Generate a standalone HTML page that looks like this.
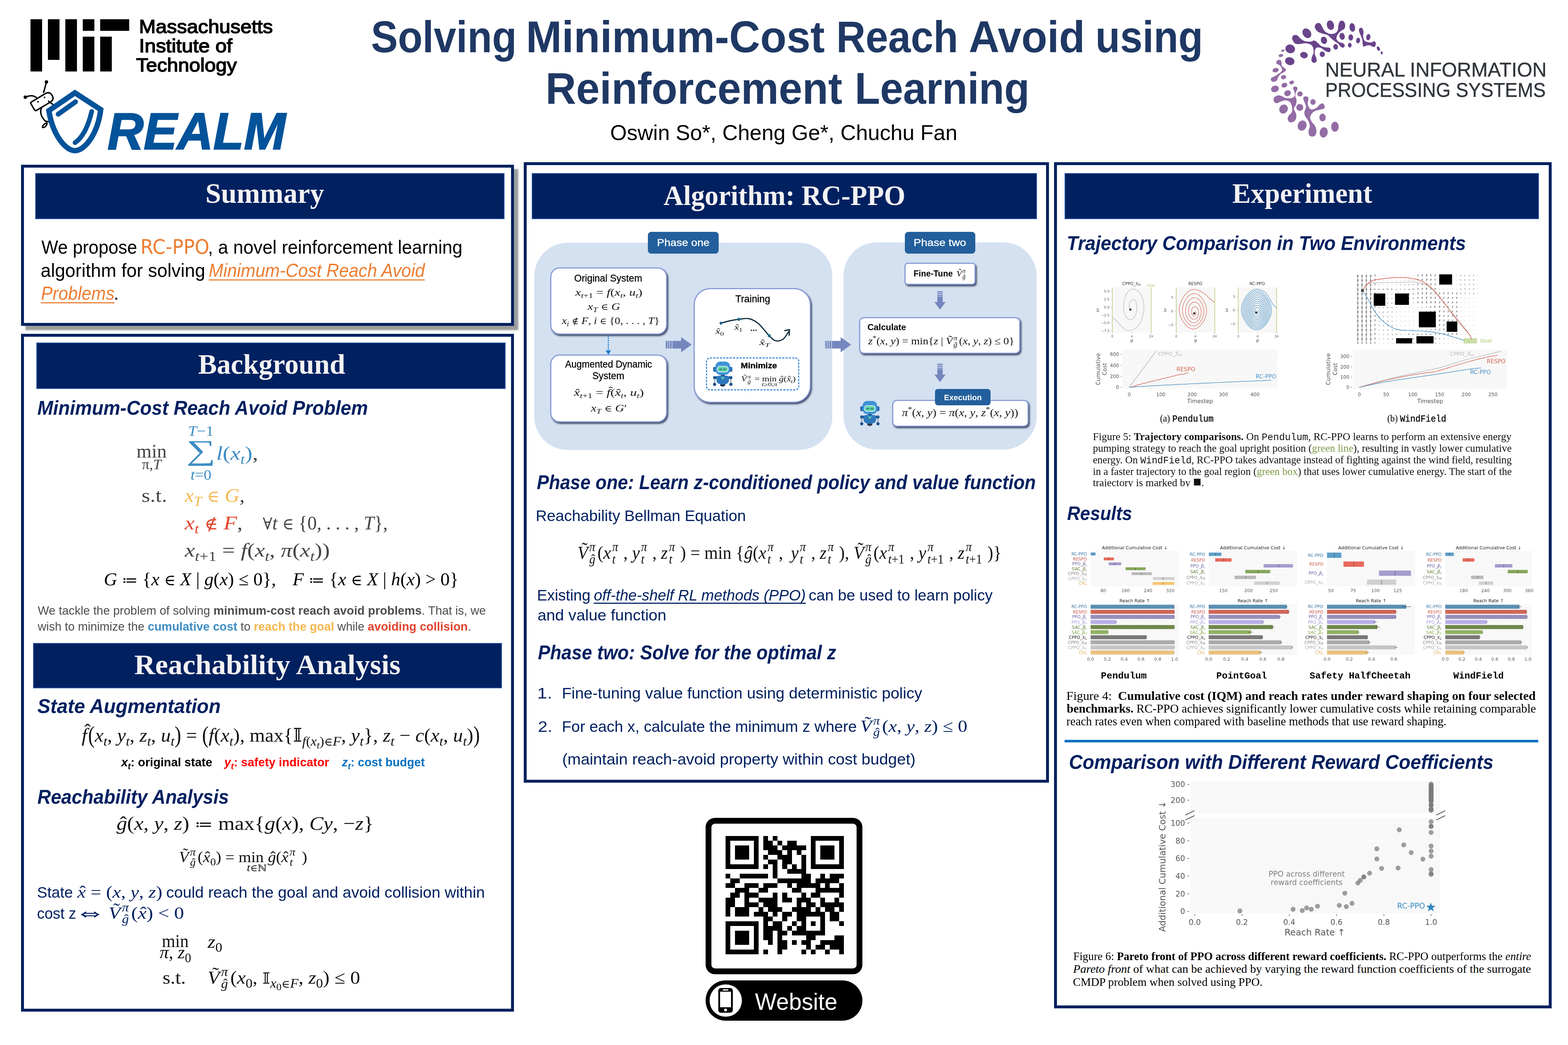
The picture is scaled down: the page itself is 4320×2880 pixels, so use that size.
<!DOCTYPE html>
<html lang="en">
<head>
<meta charset="utf-8">
<title>Solving Minimum-Cost Reach Avoid using Reinforcement Learning</title>
<style>
*{margin:0;padding:0;box-sizing:border-box}
html,body{width:4320px;height:2880px;background:#fff;overflow:hidden}
body{font-family:"Liberation Sans",sans-serif;color:#000}
#poster{position:relative;width:4320px;height:2880px;overflow:hidden;background:#fff}
.t{position:absolute;white-space:nowrap;line-height:1.2;transform-origin:0 0}
.a{position:absolute}
sub,sup{line-height:0;font-size:70%}
svg{position:absolute;overflow:visible}
u{text-decoration-thickness:from-font}
h1,h2,h3,p{margin:0;font-weight:400}
.bp{display:inline-block;transform:scaleY(1.25);transform-origin:50% 60%}

.sb{position:relative;display:inline-block;line-height:0}
.ss{position:relative;display:inline-block;line-height:0;white-space:nowrap}
.ss .sd{position:absolute;left:0;display:inline-block;line-height:0}
.acc{position:relative;display:inline-block;font-style:normal;line-height:0;font-family:'Liberation Serif',serif}
.rel{font-size:.84em}
.cal{font-family:'Liberation Serif',serif;font-style:italic}
</style>
</head>
<body>
<div id="poster">
<div class="a" id="mit-logo" style="left:0;top:0"><div class="a" style="left:84px;top:53px;width:32px;height:144px;background:#000"></div><div class="a" style="left:132px;top:53px;width:32px;height:112px;background:#000"></div><div class="a" style="left:180px;top:53px;width:32px;height:144px;background:#000"></div><div class="a" style="left:228px;top:53px;width:32px;height:32px;background:#000"></div><div class="a" style="left:228px;top:101px;width:32px;height:96px;background:#000"></div><div class="a" style="left:276px;top:53px;width:80px;height:32px;background:#000"></div><div class="a" style="left:276px;top:101px;width:32px;height:96px;background:#000"></div></div>
<div class="t" style="left:383.0px;top:41.4px;font-family:'Liberation Sans',sans-serif;font-size:52.5px;-webkit-text-stroke:2px #000;transform-origin:0 50.0px;transform:scale(1.0525,1.0000);">Massachusetts</div>
<div class="t" style="left:382.9px;top:94.0px;font-family:'Liberation Sans',sans-serif;font-size:52.5px;-webkit-text-stroke:2px #000;transform-origin:0 50.0px;transform:scale(1.0612,1.0000);">Institute of</div>
<div class="t" style="left:374.8px;top:147.0px;font-family:'Liberation Sans',sans-serif;font-size:52.5px;-webkit-text-stroke:2px #000;transform-origin:0 50.0px;transform:scale(1.0442,1.0000);">Technology</div>
<svg style="left:40px;top:30px" width="300" height="410" viewBox="0 0 928.4 1268.8" id="realm-shield">
<g fill="none" stroke="#000" stroke-width="12" stroke-linecap="round" stroke-linejoin="round">
 <path d="M-95 -30 Q-95 -42 -83 -42 L55 -42 Q97 -42 97 0 Q97 42 55 42 L-83 42 Q-95 42 -95 30 Z" fill="#fff" transform="translate(237 770) rotate(-31)"/>
 <path d="M248 695 Q262 650 270 612"/>
 <path d="M185 738 Q150 712 100 733"/>
 <path d="M232 822 Q205 880 262 940 L300 948"/>
 <path d="M290 770 Q315 790 330 800"/>
 <path d="M275 955 Q240 968 238 992 Q252 1002 272 975 Q280 962 275 955"/>
</g>
<circle cx="272" cy="606" r="15"/><circle cx="92" cy="736" r="15"/>
<circle cx="200" cy="775" r="7"/><circle cx="256" cy="738" r="7"/>
<path d="M515 699 L735 842 C720 960 680 1060 620 1130 C580 1175 545 1192 515 1192 C485 1192 450 1175 410 1130 C350 1060 310 960 293 851 Z" fill="#fff" stroke="#03539a" stroke-width="46" stroke-linejoin="miter"/>
<path d="M372 881 L520 776" fill="none" stroke="#03539a" stroke-width="42" stroke-linecap="round"/>
<path d="M658 858 Q610 1060 516 1124" fill="none" stroke="#03539a" stroke-width="40" stroke-linecap="round"/>
</svg>
<div class="t" style="left:296.1px;top:276.0px;font-family:'Liberation Sans',sans-serif;font-size:143px;font-weight:700;font-style:italic;-webkit-text-stroke:3px #03539a;color:#03539a;transform-origin:0 135.0px;transform:scale(0.9658,1.0000);">REALM</div>
<h1 class="a" style="left:0;top:0">
<span class="t" style="left:1021.8px;top:29.0px;font-family:'Liberation Sans',sans-serif;font-size:122px;font-weight:700;color:#1f3864;transform-origin:0 115.0px;transform:scale(0.9116,1.0000);">Solving</span>
<span class="t" style="left:1449.1px;top:29.0px;font-family:'Liberation Sans',sans-serif;font-size:122px;font-weight:700;color:#1f3864;transform-origin:0 115.0px;transform:scale(0.9719,1.0000);">Minimum-Cost</span>
<span class="t" style="left:2303.5px;top:29.0px;font-family:'Liberation Sans',sans-serif;font-size:122px;font-weight:700;color:#1f3864;transform-origin:0 115.0px;transform:scale(0.9174,1.0000);">Reach</span>
<span class="t" style="left:2669.1px;top:29.0px;font-family:'Liberation Sans',sans-serif;font-size:122px;font-weight:700;color:#1f3864;transform-origin:0 115.0px;transform:scale(0.9573,1.0000);">Avoid</span>
<span class="t" style="left:3018.1px;top:29.0px;font-family:'Liberation Sans',sans-serif;font-size:122px;font-weight:700;color:#1f3864;transform-origin:0 115.0px;transform:scale(0.9108,1.0000);">using</span>
<span class="t" style="left:1502.8px;top:170.5px;font-family:'Liberation Sans',sans-serif;font-size:122px;font-weight:700;color:#1f3864;transform-origin:0 115.0px;transform:scale(0.9572,1.0000);">Reinforcement</span>
<span class="t" style="left:2354.9px;top:170.5px;font-family:'Liberation Sans',sans-serif;font-size:122px;font-weight:700;color:#1f3864;transform-origin:0 115.0px;transform:scale(0.9343,1.0000);">Learning</span>
</h1>
<div class="t" style="left:1681.2px;top:330.0px;font-family:'Liberation Sans',sans-serif;font-size:59.5px;transform-origin:0 56.0px;transform:scale(0.9940,1.0000);">Oswin So*, Cheng Ge*, Chuchu Fan</div>
<svg style="left:3480px;top:40px" width="400" height="360" viewBox="0 0 1742.0 1567.8" id="neurips-logo"><ellipse cx="808" cy="128" rx="43" ry="58" fill="#6a448a" transform="rotate(-15 808 128)"/><ellipse cx="1070" cy="155" rx="34" ry="52" fill="#6a448a" transform="rotate(-8 1070 155)"/><ellipse cx="525" cy="225" rx="48" ry="62" fill="#6a448a" transform="rotate(-35 525 225)"/><ellipse cx="325" cy="412" rx="58" ry="52" fill="#6a448a" transform="rotate(20 325 412)"/><ellipse cx="490" cy="487" rx="46" ry="38" fill="#6a448a" transform="rotate(15 490 487)"/><ellipse cx="320" cy="560" rx="57" ry="47" fill="#6a448a" transform="rotate(15 320 560)"/><ellipse cx="730" cy="310" rx="37" ry="45" fill="#6a448a" transform="rotate(-20 730 310)"/><ellipse cx="948" cy="262" rx="32" ry="42" fill="#6a448a" transform="rotate(-10 948 262)"/><ellipse cx="1052" cy="275" rx="28" ry="38" fill="#6a448a" transform="rotate(0 1052 275)"/><ellipse cx="1140" cy="312" rx="24" ry="34" fill="#6a448a" transform="rotate(10 1140 312)"/><ellipse cx="870" cy="388" rx="28" ry="34" fill="#6a448a" transform="rotate(-10 870 388)"/><ellipse cx="1040" cy="368" rx="22" ry="28" fill="#6a448a" transform="rotate(0 1040 368)"/><ellipse cx="710" cy="477" rx="31" ry="34" fill="#6a448a" transform="rotate(-20 710 477)"/><ellipse cx="1383" cy="410" rx="17" ry="28" fill="#6a448a" transform="rotate(-25 1383 410)"/><ellipse cx="1423" cy="460" rx="12" ry="18" fill="#6a448a" transform="rotate(-15 1423 460)"/><ellipse cx="1262" cy="272" rx="25" ry="38" fill="#6a448a" transform="rotate(10 1262 272)"/><ellipse cx="237" cy="433" rx="20" ry="13" fill="#936ca5" transform="rotate(-15 237 433)"/><ellipse cx="213" cy="492" rx="28" ry="18" fill="#936ca5" transform="rotate(-10 213 492)"/><ellipse cx="150" cy="668" rx="38" ry="26" fill="#936ca5" transform="rotate(-15 150 668)"/><ellipse cx="245" cy="752" rx="32" ry="25" fill="#936ca5" transform="rotate(-15 245 752)"/><ellipse cx="343" cy="815" rx="28" ry="22" fill="#936ca5" transform="rotate(-20 343 815)"/><ellipse cx="255" cy="848" rx="36" ry="28" fill="#936ca5" transform="rotate(-20 255 848)"/><ellipse cx="142" cy="893" rx="48" ry="38" fill="#936ca5" transform="rotate(-20 142 893)"/><ellipse cx="293" cy="945" rx="40" ry="35" fill="#936ca5" transform="rotate(-25 293 945)"/><ellipse cx="442" cy="953" rx="32" ry="30" fill="#936ca5" transform="rotate(-10 442 953)"/><ellipse cx="598" cy="1050" rx="32" ry="34" fill="#936ca5" transform="rotate(0 598 1050)"/><ellipse cx="245" cy="1135" rx="50" ry="56" fill="#936ca5" transform="rotate(30 245 1135)"/><ellipse cx="440" cy="1115" rx="42" ry="42" fill="#936ca5" transform="rotate(0 440 1115)"/><ellipse cx="713" cy="1236" rx="38" ry="47" fill="#936ca5" transform="rotate(0 713 1236)"/><ellipse cx="468" cy="1333" rx="52" ry="62" fill="#936ca5" transform="rotate(20 468 1333)"/><ellipse cx="862" cy="1347" rx="45" ry="60" fill="#936ca5" transform="rotate(0 862 1347)"/><ellipse cx="727" cy="1415" rx="48" ry="62" fill="#936ca5" transform="rotate(10 727 1415)"/><path d="M620.0 150.0C618.3 134.7 630.0 115.5 640.0 108.0C650.0 100.5 668.3 98.0 680.0 105.0C691.7 112.0 700.0 134.2 710.0 150.0C720.0 165.8 725.0 186.3 740.0 200.0C755.0 213.7 780.0 227.8 800.0 232.0C820.0 236.2 844.2 232.0 860.0 225.0C875.8 218.0 887.5 207.5 895.0 190.0C902.5 172.5 900.0 138.7 905.0 120.0C910.0 101.3 915.0 84.7 925.0 78.0C935.0 71.3 955.0 72.2 965.0 80.0C975.0 87.8 983.3 110.0 985.0 125.0C986.7 140.0 984.2 157.5 975.0 170.0C965.8 182.5 943.3 188.3 930.0 200.0C916.7 211.7 903.3 225.0 895.0 240.0C886.7 255.0 877.5 275.0 880.0 290.0C882.5 305.0 896.7 320.8 910.0 330.0C923.3 339.2 948.3 337.5 960.0 345.0C971.7 352.5 980.0 366.2 980.0 375.0C980.0 383.8 968.3 396.3 960.0 398.0C951.7 399.7 940.0 393.0 930.0 385.0C920.0 377.0 913.3 361.7 900.0 350.0C886.7 338.3 865.0 326.7 850.0 315.0C835.0 303.3 823.3 291.7 810.0 280.0C796.7 268.3 788.3 254.2 770.0 245.0C751.7 235.8 720.0 232.5 700.0 225.0C680.0 217.5 663.3 212.5 650.0 200.0C636.7 187.5 621.7 165.3 620.0 150.0Z" fill="#6a448a"/><path d="M348.0 290.0C345.5 274.2 354.7 256.7 365.0 250.0C375.3 243.3 395.8 243.3 410.0 250.0C424.2 256.7 435.0 278.3 450.0 290.0C465.0 301.7 480.0 314.2 500.0 320.0C520.0 325.8 550.8 326.3 570.0 325.0C589.2 323.7 601.7 310.3 615.0 312.0C628.3 313.7 635.8 323.7 650.0 335.0C664.2 346.3 681.7 370.0 700.0 380.0C718.3 390.0 743.3 391.7 760.0 395.0C776.7 398.3 791.7 394.2 800.0 400.0C808.3 405.8 811.7 421.3 810.0 430.0C808.3 438.7 800.0 450.3 790.0 452.0C780.0 453.7 765.0 447.8 750.0 440.0C735.0 432.2 716.7 412.5 700.0 405.0C683.3 397.5 662.5 392.5 650.0 395.0C637.5 397.5 630.0 407.5 625.0 420.0C620.0 432.5 617.5 451.7 620.0 470.0C622.5 488.3 636.7 514.2 640.0 530.0C643.3 545.8 645.0 556.7 640.0 565.0C635.0 573.3 619.7 580.8 610.0 580.0C600.3 579.2 586.2 571.7 582.0 560.0C577.8 548.3 581.2 526.7 585.0 510.0C588.8 493.3 602.5 478.3 605.0 460.0C607.5 441.7 605.8 416.7 600.0 400.0C594.2 383.3 586.7 369.2 570.0 360.0C553.3 350.8 523.3 345.8 500.0 345.0C476.7 344.2 450.0 355.0 430.0 355.0C410.0 355.0 393.7 355.8 380.0 345.0C366.3 334.2 350.5 305.8 348.0 290.0Z" fill="#6a448a"/><path d="M1150.0 195.0C1148.3 180.3 1153.3 167.0 1160.0 162.0C1166.7 157.0 1182.5 157.0 1190.0 165.0C1197.5 173.0 1203.3 194.2 1205.0 210.0C1206.7 225.8 1198.3 243.3 1200.0 260.0C1201.7 276.7 1206.7 298.3 1215.0 310.0C1223.3 321.7 1235.8 325.8 1250.0 330.0C1264.2 334.2 1285.8 336.7 1300.0 335.0C1314.2 333.3 1326.3 318.3 1335.0 320.0C1343.7 321.7 1350.3 335.0 1352.0 345.0C1353.7 355.0 1350.3 372.8 1345.0 380.0C1339.7 387.2 1330.8 389.7 1320.0 388.0C1309.2 386.3 1293.3 372.7 1280.0 370.0C1266.7 367.3 1251.7 369.5 1240.0 372.0C1228.3 374.5 1217.5 387.0 1210.0 385.0C1202.5 383.0 1198.3 374.2 1195.0 360.0C1191.7 345.8 1194.2 318.3 1190.0 300.0C1185.8 281.7 1176.7 267.5 1170.0 250.0C1163.3 232.5 1151.7 209.7 1150.0 195.0Z" fill="#6a448a"/><path d="M158.0 575.0C159.7 567.2 166.3 552.5 175.0 548.0C183.7 543.5 202.2 542.7 210.0 548.0C217.8 553.3 219.5 568.8 222.0 580.0C224.5 591.2 218.7 604.2 225.0 615.0C231.3 625.8 251.7 636.7 260.0 645.0C268.3 653.3 275.8 657.5 275.0 665.0C274.2 672.5 265.0 682.5 255.0 690.0C245.0 697.5 226.7 700.8 215.0 710.0C203.3 719.2 193.3 731.7 185.0 745.0C176.7 758.3 175.0 779.5 165.0 790.0C155.0 800.5 136.7 808.0 125.0 808.0C113.3 808.0 99.2 798.0 95.0 790.0C90.8 782.0 92.5 768.3 100.0 760.0C107.5 751.7 126.7 747.5 140.0 740.0C153.3 732.5 166.7 724.2 180.0 715.0C193.3 705.8 212.5 695.8 220.0 685.0C227.5 674.2 228.3 662.5 225.0 650.0C221.7 637.5 210.0 619.2 200.0 610.0C190.0 600.8 172.0 600.8 165.0 595.0C158.0 589.2 156.3 582.8 158.0 575.0Z" fill="#936ca5"/><path d="M358.0 885.0C358.8 877.5 367.2 867.5 375.0 865.0C382.8 862.5 398.8 865.0 405.0 870.0C411.2 875.0 413.7 885.0 412.0 895.0C410.3 905.0 399.5 916.7 395.0 930.0C390.5 943.3 384.2 960.0 385.0 975.0C385.8 990.0 398.3 1002.5 400.0 1020.0C401.7 1037.5 400.0 1061.7 395.0 1080.0C390.0 1098.3 370.0 1111.7 370.0 1130.0C370.0 1148.3 390.8 1170.0 395.0 1190.0C399.2 1210.0 400.8 1233.3 395.0 1250.0C389.2 1266.7 373.3 1283.3 360.0 1290.0C346.7 1296.7 325.8 1296.7 315.0 1290.0C304.2 1283.3 295.8 1263.3 295.0 1250.0C294.2 1236.7 301.7 1223.3 310.0 1210.0C318.3 1196.7 339.2 1188.3 345.0 1170.0C350.8 1151.7 349.2 1120.0 345.0 1100.0C340.8 1080.0 332.5 1061.7 320.0 1050.0C307.5 1038.3 288.3 1030.8 270.0 1030.0C251.7 1029.2 227.5 1039.2 210.0 1045.0C192.5 1050.8 178.3 1065.0 165.0 1065.0C151.7 1065.0 135.8 1055.8 130.0 1045.0C124.2 1034.2 123.3 1012.2 130.0 1000.0C136.7 987.8 155.8 976.2 170.0 972.0C184.2 967.8 199.2 970.3 215.0 975.0C230.8 979.7 245.8 995.0 265.0 1000.0C284.2 1005.0 312.5 1006.7 330.0 1005.0C347.5 1003.3 361.7 999.2 370.0 990.0C378.3 980.8 380.0 963.3 380.0 950.0C380.0 936.7 373.7 920.8 370.0 910.0C366.3 899.2 357.2 892.5 358.0 885.0Z" fill="#936ca5"/><path d="M482.0 1010.0C481.2 997.5 487.0 989.2 495.0 985.0C503.0 980.8 521.7 980.0 530.0 985.0C538.3 990.0 544.2 1002.5 545.0 1015.0C545.8 1027.5 535.0 1045.0 535.0 1060.0C535.0 1075.0 537.5 1091.7 545.0 1105.0C552.5 1118.3 564.2 1137.5 580.0 1140.0C595.8 1142.5 623.3 1130.0 640.0 1120.0C656.7 1110.0 667.5 1088.7 680.0 1080.0C692.5 1071.3 705.3 1065.5 715.0 1068.0C724.7 1070.5 735.5 1084.7 738.0 1095.0C740.5 1105.3 738.0 1122.5 730.0 1130.0C722.0 1137.5 708.3 1135.0 690.0 1140.0C671.7 1145.0 638.3 1150.8 620.0 1160.0C601.7 1169.2 589.2 1181.7 580.0 1195.0C570.8 1208.3 564.2 1224.2 565.0 1240.0C565.8 1255.8 575.0 1273.3 585.0 1290.0C595.0 1306.7 615.8 1321.7 625.0 1340.0C634.2 1358.3 640.0 1381.7 640.0 1400.0C640.0 1418.3 633.3 1439.2 625.0 1450.0C616.7 1460.8 601.7 1465.0 590.0 1465.0C578.3 1465.0 562.5 1460.8 555.0 1450.0C547.5 1439.2 544.2 1418.3 545.0 1400.0C545.8 1381.7 560.0 1360.0 560.0 1340.0C560.0 1320.0 554.2 1300.0 545.0 1280.0C535.8 1260.0 513.3 1238.3 505.0 1220.0C496.7 1201.7 493.3 1188.3 495.0 1170.0C496.7 1151.7 514.2 1128.3 515.0 1110.0C515.8 1091.7 505.5 1076.7 500.0 1060.0C494.5 1043.3 482.8 1022.5 482.0 1010.0Z" fill="#936ca5"/></svg>
<div class="t" style="left:3650.5px;top:159.0px;font-family:'Liberation Sans',sans-serif;font-size:55.5px;-webkit-text-stroke:0.6px #32373d;color:#32373d;transform-origin:0 52.0px;transform:scale(0.9792,1.0000);">NEURAL INFORMATION</div>
<div class="t" style="left:3650.7px;top:214.5px;font-family:'Liberation Sans',sans-serif;font-size:55.5px;-webkit-text-stroke:0.6px #32373d;color:#32373d;transform-origin:0 52.0px;transform:scale(0.9338,1.0000);">PROCESSING SYSTEMS</div>
<div class="a panel" style="left:58px;top:454px;width:1357.5px;height:444px;border:8px solid #002060;background:#fff;box-shadow:11.5px 11.5px 4px rgba(0,0,0,.39);"></div>
<div class="a hdr" style="left:97px;top:477px;width:1293px;height:127px;background:#002060;border:2px solid #2f5cae;"></div>
<h2 class="t" style="left:565.9px;top:486.0px;font-family:'Liberation Serif',serif;font-size:78px;font-weight:700;color:#f2f2f2;transform-origin:0 73.0px;transform:scale(0.9925,1.0000);">Summary</h2>
<div class="t" style="left:114.2px;top:650.7px;font-family:'Liberation Sans',sans-serif;font-size:51.5px;transform-origin:0 48.0px;transform:scale(0.9536,1.0000);">We propose</div>
<div class="t" style="left:387.0px;top:645.7px;font-family:'DejaVu Sans',sans-serif;font-size:56px;color:#ed7d31;transform-origin:0 53.0px;transform:scale(0.9173,1.0000);">RC-PPO</div>
<div class="t" style="left:572.5px;top:650.7px;font-family:'Liberation Sans',sans-serif;font-size:51.5px;transform-origin:0 48.0px;transform:scale(0.9720,1.0000);">, a novel reinforcement learning</div>
<div class="t" style="left:112.2px;top:715.0px;font-family:'Liberation Sans',sans-serif;font-size:51.5px;transform-origin:0 48.0px;transform:scale(0.9839,1.0000);">algorithm for solving</div>
<div class="t" style="left:574.5px;top:715.0px;font-family:'Liberation Sans',sans-serif;font-size:51.5px;font-style:italic;text-decoration-skip-ink:none;text-decoration:underline;text-decoration-thickness:3px;text-underline-offset:7px;color:#ed7d31;transform-origin:0 48.0px;transform:scale(0.9368,1.0000);">Minimum-Cost Reach Avoid</div>
<div class="t" style="left:112.9px;top:778.3px;font-family:'Liberation Sans',sans-serif;font-size:51.5px;font-style:italic;text-decoration-skip-ink:none;text-decoration:underline;text-decoration-thickness:3px;text-underline-offset:7px;color:#ed7d31;transform-origin:0 48.0px;transform:scale(0.9307,1.0000);">Problems</div>
<div class="t" style="left:313.3px;top:778.3px;font-family:'Liberation Sans',sans-serif;font-size:51.5px;">.</div>
<div class="a panel" style="left:58px;top:920px;width:1357.5px;height:1867.5px;border:8px solid #002060;background:#fff;"></div>
<div class="a hdr" style="left:100px;top:944px;width:1293px;height:127.5px;background:#002060;border:2px solid #2f5cae;"></div>
<h2 class="t" style="left:545.7px;top:957.0px;font-family:'Liberation Serif',serif;font-size:78px;font-weight:700;color:#f2f2f2;transform-origin:0 73.0px;transform:scale(0.9872,1.0000);">Background</h2>
<h3 class="t" style="left:103.1px;top:1090.0px;font-family:'Liberation Sans',sans-serif;font-size:56px;font-weight:700;font-style:italic;color:#002060;transform-origin:0 53.0px;transform:scale(0.9282,1.0000);">Minimum-Cost Reach Avoid Problem</h3>
<div class="t" style="left:375.5px;top:1211.3px;font-family:'Liberation Serif',serif;font-size:53.5px;color:#444;transform-origin:0 50.0px;transform:scale(1.0024,1.0000);">min</div>
<div class="t" style="left:391.4px;top:1255.5px;font-family:'Liberation Serif',serif;font-size:40px;color:#444;transform-origin:0 37.0px;transform:scale(1.0148,1.0000);">π,<i>T</i></div>
<div class="t" style="left:518.2px;top:1163.5px;font-family:'Liberation Serif',serif;font-size:40px;color:#3c8dc4;transform-origin:0 37.0px;transform:scale(1.0942,1.0000);"><i>T</i>−1</div>
<div class="t" style="left:513.4px;top:1174.0px;font-family:'Liberation Serif',serif;font-size:100px;font-family:'Liberation Serif','DejaVu Serif','DejaVu Sans',serif;color:#3c8dc4;transform-origin:0 93.0px;transform:scale(1.1367,0.7800);">∑</div>
<div class="t" style="left:524.6px;top:1284.5px;font-family:'Liberation Serif',serif;font-size:40px;color:#3c8dc4;transform-origin:0 37.0px;transform:scale(1.0720,1.0000);"><i>t</i>=0</div>
<div class="t" style="left:595.7px;top:1217.0px;font-family:'Liberation Serif',serif;font-size:53.5px;color:#3c8dc4;transform-origin:0 50.0px;transform:scale(1.1749,1.0000);"><i>l</i>(<i>x</i><span class="sb" style="font-size:0.7em;top:0.314em"><i>t</i></span>)<span style="color:#444">,</span></div>
<div class="t" style="left:389.5px;top:1332.5px;font-family:'Liberation Serif',serif;font-size:53.5px;color:#444;transform-origin:0 50.0px;transform:scale(1.1284,1.0000);">s.t.</div>
<div class="t" style="left:509.0px;top:1332.5px;font-family:'Liberation Serif',serif;font-size:53.5px;font-family:'Liberation Serif','DejaVu Serif','DejaVu Sans',serif;color:#f6b74e;transform-origin:0 50.0px;transform:scale(1.0539,1.0000);"><i>x</i><span class="sb" style="font-size:0.7em;top:0.314em"><i>T</i></span> <span class="rel">∈</span> <i class="cal">G</i><span style="color:#444">,</span></div>
<div class="t" style="left:509.0px;top:1408.5px;font-family:'Liberation Serif',serif;font-size:53.5px;font-family:'Liberation Serif','DejaVu Serif','DejaVu Sans',serif;color:#e2432c;transform-origin:0 50.0px;transform:scale(1.1364,1.0000);"><i>x</i><span class="sb" style="font-size:0.7em;top:0.314em"><i>t</i></span> <span class="rel">∉</span> <i class="cal">F</i><span style="color:#444">,</span></div>
<div class="t" style="left:724.4px;top:1408.5px;font-family:'Liberation Serif',serif;font-size:53.5px;font-family:'Liberation Serif','DejaVu Serif','DejaVu Sans',serif;color:#444;transform-origin:0 50.0px;transform:scale(0.9642,1.0000);"><span class="rel">∀</span><i>t</i> <span class="rel">∈</span> {0, . . . , <i>T</i>},</div>
<div class="t" style="left:508.9px;top:1483.8px;font-family:'Liberation Serif',serif;font-size:53.5px;font-family:'Liberation Serif','DejaVu Serif','DejaVu Sans',serif;color:#444;transform-origin:0 50.0px;transform:scale(1.1795,1.0000);"><i>x</i><span class="sb" style="font-size:0.7em;top:0.314em"><i>t</i>+1</span> = <i>f</i>(<i>x</i><span class="sb" style="font-size:0.7em;top:0.314em"><i>t</i></span>, <i>π</i>(<i>x</i><span class="sb" style="font-size:0.7em;top:0.314em"><i>t</i></span>))</div>
<div class="t" style="left:285.7px;top:1566.4px;font-family:'Liberation Serif',serif;font-size:50px;font-family:'Liberation Serif','DejaVu Serif','DejaVu Sans',serif;color:#000;transform-origin:0 47.0px;transform:scale(1.0166,1.0000);"><i class="cal">G</i> <span class="rel">≔</span> {<i>x</i> <span class="rel">∈</span> <i class="cal">X</i> | <i>g</i>(<i>x</i>) ≤ 0},<span style="display:inline-block;width:0.9em"></span><i class="cal">F</i> <span class="rel">≔</span> {<i>x</i> <span class="rel">∈</span> <i class="cal">X</i> | <i>h</i>(<i>x</i>) &gt; 0}</div>
<p class="t" style="left:103.9px;top:1663.0px;font-family:'Liberation Sans',sans-serif;font-size:33.5px;color:#4d4d4d;transform-origin:0 31.0px;transform:scale(0.9819,1.0000);">We tackle the problem of solving <b>minimum-cost reach avoid problems</b>. That is, we</p>
<p class="t" style="left:104.0px;top:1706.7px;font-family:'Liberation Sans',sans-serif;font-size:33.5px;color:#4d4d4d;transform-origin:0 31.0px;transform:scale(0.9746,1.0000);">wish to minimize the <b style="color:#3c8dc4">cumulative cost</b> to <b style="color:#f6b74e">reach the goal</b> while <b style="color:#e2432c">avoiding collision</b>.</p>
<div class="a hdr" style="left:90.5px;top:1771.5px;width:1292px;height:125.5px;background:#002060;border:2px solid #2f5cae;"></div>
<h2 class="t" style="left:370.3px;top:1785.0px;font-family:'Liberation Serif',serif;font-size:78px;font-weight:700;color:#f2f2f2;transform-origin:0 73.0px;transform:scale(1.0228,1.0000);">Reachability Analysis</h2>
<h3 class="t" style="left:103.3px;top:1912.3px;font-family:'Liberation Sans',sans-serif;font-size:56px;font-weight:700;font-style:italic;color:#002060;transform-origin:0 53.0px;transform:scale(0.9584,1.0000);">State Augmentation</h3>
<div class="t" style="left:224.9px;top:1995.7px;font-family:'Liberation Serif',serif;font-size:52px;font-family:'Liberation Serif','DejaVu Serif','DejaVu Sans',serif;color:#111;transform-origin:0 48.0px;transform:scale(1.0431,1.0000);"><i>f</i><span class="acc" style="margin-left:-0.145em;margin-right:-0.188em;top:-0.23em">ˆ</span><span style="display:inline-block;width:0.05em"></span><span class="bp">(</span><i>x</i><span class="sb" style="font-size:0.7em;top:0.314em"><i>t</i></span>, <i>y</i><span class="sb" style="font-size:0.7em;top:0.314em"><i>t</i></span>, <i>z</i><span class="sb" style="font-size:0.7em;top:0.314em"><i>t</i></span>, <i>u</i><span class="sb" style="font-size:0.7em;top:0.314em"><i>t</i></span><span class="bp">)</span> = <span class="bp">(</span><i>f</i>(<i>x</i><span class="sb" style="font-size:0.7em;top:0.314em"><i>t</i></span>), max{𝕀<span class="sb" style="font-size:0.7em;top:0.314em"><i>f</i>(<i>x</i><span class="sb" style="font-size:0.75em;top:0.293em"><i>t</i></span>)<span class="rel">∈</span><i class="cal">F</i></span>, <i>y</i><span class="sb" style="font-size:0.7em;top:0.314em"><i>t</i></span>}, <i>z</i><span class="sb" style="font-size:0.7em;top:0.314em"><i>t</i></span> − <i>c</i>(<i>x</i><span class="sb" style="font-size:0.7em;top:0.314em"><i>t</i></span>, <i>u</i><span class="sb" style="font-size:0.7em;top:0.314em"><i>t</i></span>)<span class="bp">)</span></div>
<div class="t" style="left:333.5px;top:2080.3px;font-family:'Liberation Sans',sans-serif;font-size:34px;font-weight:700;transform-origin:0 32.0px;transform:scale(0.9677,1.0000);"><i>x</i><span class="sb" style="font-size:0.7em;top:0.314em"><i>t</i></span>: original state</div>
<div class="t" style="left:618.2px;top:2080.3px;font-family:'Liberation Sans',sans-serif;font-size:34px;font-weight:700;color:#ff0000;transform-origin:0 32.0px;transform:scale(0.9659,1.0000);"><i>y</i><span class="sb" style="font-size:0.7em;top:0.314em"><i>t</i></span>: safety indicator</div>
<div class="t" style="left:941.7px;top:2080.3px;font-family:'Liberation Sans',sans-serif;font-size:34px;font-weight:700;color:#0070c0;transform-origin:0 32.0px;transform:scale(0.9577,1.0000);"><i>z</i><span class="sb" style="font-size:0.7em;top:0.314em"><i>t</i></span>: cost budget</div>
<h3 class="t" style="left:103.1px;top:2161.6px;font-family:'Liberation Sans',sans-serif;font-size:56px;font-weight:700;font-style:italic;color:#002060;transform-origin:0 53.0px;transform:scale(0.9197,1.0000);">Reachability Analysis</h3>
<div class="t" style="left:320.8px;top:2237.8px;font-family:'Liberation Serif',serif;font-size:53px;font-family:'Liberation Serif','DejaVu Serif','DejaVu Sans',serif;color:#111;transform-origin:0 49.0px;transform:scale(1.0984,1.0000);"><i>g</i><span class="acc" style="margin-left:-0.346em;margin-right:0.013em;top:-0.00em">ˆ</span>(<i>x</i>, <i>y</i>, <i>z</i>) <span class="rel">≔</span> max{<i>g</i>(<i>x</i>), <i>C</i><i>y</i>, −<i>z</i>}</div>
<div class="t" style="left:492.5px;top:2336.6px;font-family:'Liberation Serif',serif;font-size:42px;font-family:'Liberation Serif','DejaVu Serif','DejaVu Sans',serif;color:#111;transform-origin:0 39.0px;transform:scale(1.0636,1.0000);"><i>V</i><span class="acc" style="margin-left:-0.372em;margin-right:0.039em;top:-0.20em">˜</span><span class="ss" style="font-size:0.7em;margin-left:0.1em"><span class="sb" style="top:-0.600em"><i>π</i></span><span class="sd" style="top:0.357em"><i>g</i><span class="acc" style="margin-left:-0.346em;margin-right:0.013em;top:-0.00em">ˆ</span></span></span><span style="display:inline-block;width:0.12em"></span>(<i>x</i><span class="acc" style="margin-left:-0.329em;margin-right:-0.005em;top:-0.00em">ˆ</span><span class="sb" style="font-size:0.7em;top:0.314em">0</span>) = min <i>g</i><span class="acc" style="margin-left:-0.346em;margin-right:0.013em;top:-0.00em">ˆ</span>(<i>x</i><span class="acc" style="margin-left:-0.329em;margin-right:-0.005em;top:-0.00em">ˆ</span><span class="ss" style="font-size:0.7em;margin-left:0.1em"><span class="sb" style="top:-0.600em"><i>π</i></span><span class="sd" style="top:0.357em"><i>t</i></span></span><span style="display:inline-block;width:0.4em"></span>)</div>
<div class="t" style="left:679.7px;top:2373.0px;font-family:'Liberation Serif',serif;font-size:30px;font-family:'Liberation Serif','DejaVu Serif','DejaVu Sans',serif;color:#111;transform-origin:0 28.0px;transform:scale(1.1058,1.0000);"><i>t</i><span class="rel">∈</span><span class="rel">ℕ</span></div>
<div class="t" style="left:102.1px;top:2433.6px;font-family:'Liberation Sans',sans-serif;font-size:43px;color:#002060;transform-origin:0 40.0px;transform:scale(0.9840,1.0000);">State</div>
<div class="t" style="left:213.1px;top:2429.6px;font-family:'Liberation Serif',serif;font-size:47px;font-family:'Liberation Serif','DejaVu Serif','DejaVu Sans',serif;color:#002060;transform-origin:0 44.0px;transform:scale(1.1193,1.0000);"><i>x</i><span class="acc" style="margin-left:-0.329em;margin-right:-0.005em;top:-0.00em">ˆ</span> = (<i>x</i>, <i>y</i>, <i>z</i>)</div>
<div class="t" style="left:458.0px;top:2433.6px;font-family:'Liberation Sans',sans-serif;font-size:43px;color:#002060;transform-origin:0 40.0px;transform:scale(1.0061,1.0000);">could reach the goal and avoid collision within</div>
<div class="t" style="left:102.2px;top:2491.8px;font-family:'Liberation Sans',sans-serif;font-size:43px;color:#002060;transform-origin:0 40.0px;transform:scale(0.9599,1.0000);">cost z</div>
<div class="t" style="left:207.3px;top:2476.5px;font-family:'Liberation Sans',sans-serif;font-size:62px;-webkit-text-stroke:1px #002060;color:#002060;transform-origin:0 58.0px;transform:scale(1.3218,1.0000);">⇔</div>
<div class="t" style="left:299.4px;top:2487.8px;font-family:'Liberation Serif',serif;font-size:47px;font-family:'Liberation Serif','DejaVu Serif','DejaVu Sans',serif;color:#002060;transform-origin:0 44.0px;transform:scale(1.1568,1.0000);"><i>V</i><span class="acc" style="margin-left:-0.372em;margin-right:0.039em;top:-0.20em">˜</span><span class="ss" style="font-size:0.7em;margin-left:0.1em"><span class="sb" style="top:-0.600em"><i>π</i></span><span class="sd" style="top:0.357em"><i>g</i><span class="acc" style="margin-left:-0.346em;margin-right:0.013em;top:-0.00em">ˆ</span></span></span><span style="display:inline-block;width:0.12em"></span>(<i>x</i><span class="acc" style="margin-left:-0.329em;margin-right:-0.005em;top:-0.00em">ˆ</span>) &lt; 0</div>
<div class="t" style="left:446.0px;top:2562.5px;font-family:'Liberation Serif',serif;font-size:50px;color:#111;transform-origin:0 47.0px;transform:scale(0.9475,1.0000);">min</div>
<div class="t" style="left:440.3px;top:2594.0px;font-family:'Liberation Serif',serif;font-size:50px;color:#111;transform-origin:0 47.0px;transform:scale(0.9947,1.0000);"><i>π</i>, <i>z</i><span class="sb" style="font-size:0.7em;top:0.314em">0</span></div>
<div class="t" style="left:572.3px;top:2565.0px;font-family:'Liberation Serif',serif;font-size:50px;color:#111;transform-origin:0 47.0px;transform:scale(1.0972,1.0000);"><i>z</i><span class="sb" style="font-size:0.7em;top:0.314em">0</span></div>
<div class="t" style="left:447.8px;top:2663.6px;font-family:'Liberation Serif',serif;font-size:50px;color:#111;transform-origin:0 47.0px;transform:scale(1.0941,1.0000);">s.t.</div>
<div class="t" style="left:572.0px;top:2663.6px;font-family:'Liberation Serif',serif;font-size:50px;font-family:'Liberation Serif','DejaVu Serif','DejaVu Sans',serif;color:#111;transform-origin:0 47.0px;transform:scale(1.0869,1.0000);"><i>V</i><span class="acc" style="margin-left:-0.372em;margin-right:0.039em;top:-0.20em">˜</span><span class="ss" style="font-size:0.7em;margin-left:0.1em"><span class="sb" style="top:-0.600em"><i>π</i></span><span class="sd" style="top:0.357em"><i>g</i><span class="acc" style="margin-left:-0.346em;margin-right:0.013em;top:-0.00em">ˆ</span></span></span><span style="display:inline-block;width:0.12em"></span>(<i>x</i><span class="sb" style="font-size:0.7em;top:0.314em">0</span>, <span class="rel">𝕀</span><span class="sb" style="font-size:0.7em;top:0.314em"><i>x</i><span class="sb" style="font-size:0.75em;top:0.293em">0</span><span class="rel">∈</span><i class="cal">F</i></span>, <i>z</i><span class="sb" style="font-size:0.7em;top:0.314em">0</span>) ≤ 0</div>
<div class="a panel" style="left:1442.5px;top:447px;width:1447px;height:1710px;border:8px solid #002060;background:#fff;"></div>
<div class="a hdr" style="left:1465px;top:477px;width:1392px;height:126.5px;background:#002060;border:2px solid #2f5cae;"></div>
<h2 class="t" style="left:1828.3px;top:491.8px;font-family:'Liberation Serif',serif;font-size:78px;font-weight:700;color:#f2f2f2;transform-origin:0 73.0px;transform:scale(0.9705,1.0000);">Algorithm: RC-PPO</h2>
<div class="a phase" style="left:1472px;top:668.5px;width:821px;height:571px;background:#d4e1f1;border-radius:92px;"></div>
<div class="a phase" style="left:2324px;top:668px;width:532px;height:570.5px;background:#d4e1f1;border-radius:92px;"></div>
<div class="a lab" style="left:1785.3px;top:639.2px;width:194.3px;height:59.6px;background:#225f9c;border-radius:9px;"></div>
<div class="t" style="left:1809.5px;top:652.0px;font-family:'Liberation Sans',sans-serif;font-size:28px;-webkit-text-stroke:0.5px #fff;color:#fff;transform-origin:0 26.0px;transform:scale(1.0817,1.0000);">Phase one</div>
<div class="a lab" style="left:2492.7px;top:639.2px;width:194px;height:59.6px;background:#225f9c;border-radius:9px;"></div>
<div class="t" style="left:2516.5px;top:652.0px;font-family:'Liberation Sans',sans-serif;font-size:28px;-webkit-text-stroke:0.5px #fff;color:#fff;transform-origin:0 26.0px;transform:scale(1.1078,1.0000);">Phase two</div>
<div class="a wbox" style="left:1516px;top:737px;width:321.5px;height:185px;background:#fff;border:3px solid #8499d6;border-radius:26px;box-shadow:3px 4px 4px rgba(25,35,65,.8);"></div>
<div class="t" style="left:1582.4px;top:751.0px;font-family:'Liberation Sans',sans-serif;font-size:27px;-webkit-text-stroke:0.4px #000;transform-origin:0 25.0px;transform:scale(0.9829,1.0000);">Original System</div>
<div class="t" style="left:1584.7px;top:789.0px;font-family:'Liberation Serif',serif;font-size:27.5px;font-family:'Liberation Serif','DejaVu Serif','DejaVu Sans',serif;color:#111;transform-origin:0 26.0px;transform:scale(1.2860,1.0000);"><i>x</i><span class="sb" style="font-size:0.7em;top:0.314em"><i>t</i>+1</span> = <i>f</i>(<i>x</i><span class="sb" style="font-size:0.7em;top:0.314em"><i>t</i></span>, <i>u</i><span class="sb" style="font-size:0.7em;top:0.314em"><i>t</i></span>)</div>
<div class="t" style="left:1618.7px;top:827.5px;font-family:'Liberation Serif',serif;font-size:27.5px;font-family:'Liberation Serif','DejaVu Serif','DejaVu Sans',serif;color:#111;transform-origin:0 26.0px;transform:scale(1.2126,1.0000);"><i>x</i><span class="sb" style="font-size:0.7em;top:0.314em"><i>T</i></span> <span class="rel">∈</span> <i class="cal">G</i></div>
<div class="t" style="left:1547.5px;top:866.7px;font-family:'Liberation Serif',serif;font-size:27.5px;font-family:'Liberation Serif','DejaVu Serif','DejaVu Sans',serif;color:#111;transform-origin:0 26.0px;transform:scale(1.1140,1.0000);"><i>x</i><span class="sb" style="font-size:0.7em;top:0.314em"><i>i</i></span> <span class="rel">∉</span> <i class="cal">F</i>, <i>i</i> <span class="rel">∈</span> {0, . . . , <i>T</i>}</div>
<div class="a wbox" style="left:1516px;top:977px;width:321.5px;height:186.7px;background:#fff;border:3px solid #8499d6;border-radius:26px;box-shadow:3px 4px 4px rgba(25,35,65,.8);"></div>
<div class="t" style="left:1556.6px;top:988.0px;font-family:'Liberation Sans',sans-serif;font-size:27px;-webkit-text-stroke:0.4px #000;transform-origin:0 25.0px;transform:scale(0.9557,1.0000);">Augmented Dynamic</div>
<div class="t" style="left:1632.3px;top:1019.5px;font-family:'Liberation Sans',sans-serif;font-size:27px;-webkit-text-stroke:0.4px #000;transform-origin:0 25.0px;transform:scale(0.9756,1.0000);">System</div>
<div class="t" style="left:1580.7px;top:1065.4px;font-family:'Liberation Serif',serif;font-size:27.5px;font-family:'Liberation Serif','DejaVu Serif','DejaVu Sans',serif;color:#111;transform-origin:0 26.0px;transform:scale(1.3419,1.0000);"><i>x</i><span class="acc" style="margin-left:-0.329em;margin-right:-0.005em;top:-0.00em">ˆ</span><span class="sb" style="font-size:0.7em;top:0.314em"><i>t</i>+1</span> = <i>f</i><span class="acc" style="margin-left:-0.145em;margin-right:-0.188em;top:-0.23em">ˆ</span>(<i>x</i><span class="acc" style="margin-left:-0.329em;margin-right:-0.005em;top:-0.00em">ˆ</span><span class="sb" style="font-size:0.7em;top:0.314em"><i>t</i></span>, <i>u</i><span class="sb" style="font-size:0.7em;top:0.314em"><i>t</i></span>)</div>
<div class="t" style="left:1627.7px;top:1107.5px;font-family:'Liberation Serif',serif;font-size:27.5px;font-family:'Liberation Serif','DejaVu Serif','DejaVu Sans',serif;color:#111;transform-origin:0 26.0px;transform:scale(1.2422,1.0000);"><i>x</i><span class="sb" style="font-size:0.7em;top:0.314em"><i>T</i></span> <span class="rel">∈</span> <i class="cal">G</i>′</div>
<div class="a wbox" style="left:1911px;top:793.5px;width:323px;height:316.5px;background:#fff;border:3px solid #8499d6;border-radius:46px;box-shadow:3px 4px 4px rgba(25,35,65,.8);"></div>
<div class="t" style="left:2025.9px;top:808.0px;font-family:'Liberation Sans',sans-serif;font-size:27px;-webkit-text-stroke:0.4px #000;transform-origin:0 25.0px;transform:scale(0.9926,1.0000);">Training</div>
<div class="a dash" style="left:1945px;top:984.5px;width:256.6px;height:91.8px;border:3px dashed #3b8ad8;border-radius:11px;"></div>
<div class="t" style="left:2040.8px;top:994.0px;font-family:'Liberation Sans',sans-serif;font-size:22.5px;font-weight:700;-webkit-text-stroke:0.5px #000;transform-origin:0 21.0px;transform:scale(1.0481,1.0000);">Minimize</div>
<div class="t" style="left:2041.7px;top:1032.4px;font-family:'Liberation Serif',serif;font-size:21px;font-family:'Liberation Serif','DejaVu Serif','DejaVu Sans',serif;color:#111;transform-origin:0 19.0px;transform:scale(1.2229,1.0000);"><i>V</i><span class="acc" style="margin-left:-0.372em;margin-right:0.039em;top:-0.20em">˜</span><span class="ss" style="font-size:0.7em;margin-left:0.1em"><span class="sb" style="top:-0.600em"><i>π</i></span><span class="sd" style="top:0.357em"><i>g</i><span class="acc" style="margin-left:-0.346em;margin-right:0.013em;top:-0.00em">ˆ</span></span></span><span style="display:inline-block;width:0.15em"></span> = min <i>g</i><span class="acc" style="margin-left:-0.346em;margin-right:0.013em;top:-0.00em">ˆ</span>(<i>x</i><span class="acc" style="margin-left:-0.329em;margin-right:-0.005em;top:-0.00em">ˆ</span><span class="sb" style="font-size:0.7em;top:0.314em"><i>t</i></span>)</div>
<div class="t" style="left:2098.8px;top:1052.0px;font-family:'Liberation Serif',serif;font-size:14px;font-family:'Liberation Serif','DejaVu Serif','DejaVu Sans',serif;color:#111;transform-origin:0 12.0px;transform:scale(1.4611,1.0000);"><i>t</i>≥0,<i>π</i></div>
<div class="t" style="left:1970.7px;top:901.0px;font-family:'Liberation Serif',serif;font-size:21px;color:#111;transform-origin:0 19.0px;transform:scale(1.4024,1.0000);"><i>x</i><span class="acc" style="margin-left:-0.329em;margin-right:-0.005em;top:-0.00em">ˆ</span><span class="sb" style="font-size:0.7em;top:0.314em">0</span></div>
<div class="t" style="left:2022.7px;top:890.0px;font-family:'Liberation Serif',serif;font-size:21px;color:#111;transform-origin:0 19.0px;transform:scale(1.3792,1.0000);"><i>x</i><span class="acc" style="margin-left:-0.329em;margin-right:-0.005em;top:-0.00em">ˆ</span><span class="sb" style="font-size:0.7em;top:0.314em">1</span></div>
<div class="t" style="left:2066.9px;top:892.0px;font-family:'Liberation Serif',serif;font-size:22px;font-weight:700;color:#111;transform-origin:0 20.0px;transform:scale(1.1671,1.0000);">...</div>
<div class="t" style="left:2091.7px;top:932.4px;font-family:'Liberation Serif',serif;font-size:21px;color:#111;transform-origin:0 19.0px;transform:scale(1.6503,1.0000);"><i>x</i><span class="acc" style="margin-left:-0.329em;margin-right:-0.005em;top:-0.00em">ˆ</span><span class="sb" style="font-size:0.7em;top:0.314em"><i>T</i></span></div>
<div class="a wbox" style="left:2491.8px;top:724px;width:196px;height:61.3px;background:#fff;border:3px solid #8499d6;border-radius:9px;box-shadow:3px 4px 4px rgba(25,35,65,.8);"></div>
<div class="t" style="left:2516.9px;top:740.0px;font-family:'Liberation Sans',sans-serif;font-size:23.5px;font-weight:700;transform-origin:0 22.0px;transform:scale(0.9764,1.0000);">Fine-Tune</div>
<div class="t" style="left:2635.2px;top:740.0px;font-family:'Liberation Serif',serif;font-size:24px;font-family:'Liberation Serif','DejaVu Serif','DejaVu Sans',serif;color:#111;"><i>V</i><span class="acc" style="margin-left:-0.372em;margin-right:0.039em;top:-0.20em">˜</span><span class="ss" style="font-size:0.7em;margin-left:0.1em"><span class="sb" style="top:-0.600em"><i>π</i></span><span class="sd" style="top:0.357em"><i>g</i><span class="acc" style="margin-left:-0.346em;margin-right:0.013em;top:-0.00em">ˆ</span></span></span></div>
<div class="a wbox" style="left:2367px;top:873.9px;width:444px;height:101.1px;background:#fff;border:3px solid #8499d6;border-radius:13px;box-shadow:3px 4px 4px rgba(25,35,65,.8);"></div>
<div class="t" style="left:2390.4px;top:887.8px;font-family:'Liberation Sans',sans-serif;font-size:23.5px;font-weight:700;transform-origin:0 22.0px;transform:scale(1.0182,1.0000);">Calculate</div>
<div class="t" style="left:2391.9px;top:923.4px;font-family:'Liberation Serif',serif;font-size:27.5px;font-family:'Liberation Serif','DejaVu Serif','DejaVu Sans',serif;color:#111;transform-origin:0 26.0px;transform:scale(1.1141,1.0000);"><i>z</i><span class="sb" style="font-size:0.7em;top:-0.600em">*</span>(<i>x</i>, <i>y</i>) = min{<i>z</i> | <i>V</i><span class="acc" style="margin-left:-0.372em;margin-right:0.039em;top:-0.20em">˜</span><span class="ss" style="font-size:0.7em;margin-left:0.1em"><span class="sb" style="top:-0.600em"><i>π</i></span><span class="sd" style="top:0.357em"><i>g</i><span class="acc" style="margin-left:-0.346em;margin-right:0.013em;top:-0.00em">ˆ</span></span></span><span style="display:inline-block;width:0.15em"></span>(<i>x</i>, <i>y</i>, <i>z</i>) ≤ 0}</div>
<div class="a wbox" style="left:2458px;top:1101.6px;width:375.5px;height:74.4px;background:#fff;border:3px solid #8499d6;border-radius:13px;box-shadow:3px 4px 4px rgba(25,35,65,.8);"></div>
<div class="a lab" style="left:2575.5px;top:1072.2px;width:153.1px;height:44.5px;background:#225f9c;border-radius:8px;"></div>
<div class="t" style="left:2600.5px;top:1081.9px;font-family:'Liberation Sans',sans-serif;font-size:22.5px;font-weight:700;color:#fff;transform-origin:0 21.0px;transform:scale(0.9643,1.0000);">Execution</div>
<div class="t" style="left:2484.9px;top:1120.5px;font-family:'Liberation Serif',serif;font-size:28.5px;font-family:'Liberation Serif','DejaVu Serif','DejaVu Sans',serif;color:#111;transform-origin:0 26.0px;transform:scale(1.1445,1.0000);"><i>π</i><span class="sb" style="font-size:0.7em;top:-0.600em">*</span>(<i>x</i>, <i>y</i>) = <i>π</i>(<i>x</i>, <i>y</i>, <i>z</i><span class="sb" style="font-size:0.7em;top:-0.600em">*</span>(<i>x</i>, <i>y</i>))</div>
<svg style="left:1964px;top:995.5px" width="54.5" height="70.2" viewBox="0 0 135 172" class="robot">
<rect x="8" y="118" width="8" height="34" fill="#9aa7b8"/><rect x="119" y="118" width="8" height="34" fill="#9aa7b8"/>
<rect x="2" y="100" width="26" height="20" rx="6" fill="#1f5a96"/><rect x="107" y="100" width="26" height="20" rx="6" fill="#1f5a96"/>
<circle cx="12" cy="156" r="11" fill="#1d4f8c"/><circle cx="123" cy="156" r="11" fill="#1d4f8c"/>
<ellipse cx="67" cy="160" rx="18" ry="11" fill="#2b3a55"/>
<rect x="54" y="84" width="27" height="16" fill="#1d4f8c"/>
<path d="M25 112 Q25 96 42 96 L93 96 Q110 96 110 112 L110 128 Q110 156 67 156 Q25 156 25 128 Z" fill="#2f78bd"/>
<path d="M58 108 L77 108 L67 121 Z" fill="#5fd3a8" stroke="#5fd3a8" stroke-width="4" stroke-linejoin="round"/>
<rect x="2" y="36" width="22" height="34" rx="9" fill="#2a6db3"/><rect x="111" y="36" width="22" height="34" rx="9" fill="#2a6db3"/>
<rect x="18" y="0" width="99" height="90" rx="32" fill="#3d93d6"/>
<rect x="28" y="30" width="79" height="44" rx="20" fill="#dff1f6"/>
<rect x="33" y="35" width="69" height="34" rx="15" fill="#5fd3a8"/>
<path d="M47 56 Q54 44 61 56 M74 56 Q81 44 88 56" fill="none" stroke="#1f4f55" stroke-width="4.5" stroke-linecap="round"/>
</svg>
<svg style="left:2369px;top:1105px" width="55" height="69.3" viewBox="0 0 135 172" class="robot">
<rect x="8" y="118" width="8" height="34" fill="#9aa7b8"/><rect x="119" y="118" width="8" height="34" fill="#9aa7b8"/>
<rect x="2" y="100" width="26" height="20" rx="6" fill="#1f5a96"/><rect x="107" y="100" width="26" height="20" rx="6" fill="#1f5a96"/>
<circle cx="12" cy="156" r="11" fill="#1d4f8c"/><circle cx="123" cy="156" r="11" fill="#1d4f8c"/>
<ellipse cx="67" cy="160" rx="18" ry="11" fill="#2b3a55"/>
<rect x="54" y="84" width="27" height="16" fill="#1d4f8c"/>
<path d="M25 112 Q25 96 42 96 L93 96 Q110 96 110 112 L110 128 Q110 156 67 156 Q25 156 25 128 Z" fill="#2f78bd"/>
<path d="M58 108 L77 108 L67 121 Z" fill="#5fd3a8" stroke="#5fd3a8" stroke-width="4" stroke-linejoin="round"/>
<rect x="2" y="36" width="22" height="34" rx="9" fill="#2a6db3"/><rect x="111" y="36" width="22" height="34" rx="9" fill="#2a6db3"/>
<rect x="18" y="0" width="99" height="90" rx="32" fill="#3d93d6"/>
<rect x="28" y="30" width="79" height="44" rx="20" fill="#dff1f6"/>
<rect x="33" y="35" width="69" height="34" rx="15" fill="#5fd3a8"/>
<path d="M47 56 Q54 44 61 56 M74 56 Q81 44 88 56" fill="none" stroke="#1f4f55" stroke-width="4.5" stroke-linecap="round"/>
</svg>
<svg style="left:0;top:0" width="4320" height="1300" viewBox="0 0 4320 1300" id="diagram-arrows"><g fill="#7587be"><rect x="1834" y="939.5" width="4.4" height="21"/><rect x="1840.1" y="939.5" width="4.1" height="21"/><rect x="1845.8" y="939.5" width="4.9" height="21"/><path d="M1852.4 939.5 H1876.5 V929 L1905.5 950 L1876.5 971 V960.5 H1852.4 Z"/></g><g fill="#7587be"><rect x="2273.5" y="939.5" width="4.4" height="21"/><rect x="2279.6" y="939.5" width="4.1" height="21"/><rect x="2285.3" y="939.5" width="4.9" height="21"/><path d="M2291.9 939.5 H2316.0 V929 L2345.0 950 L2316.0 971 V960.5 H2291.9 Z"/></g><g fill="#7587be"><rect x="2582.3" y="802.4" width="15" height="3.3"/><rect x="2582.3" y="807.6999999999999" width="15" height="3.3"/><rect x="2582.3" y="813.0" width="15" height="3.4"/><path d="M2582.3 817.6 H2597.3 V832.4 H2605.3 L2589.8 852.9 L2574.3 832.4 H2582.3 Z"/></g><g fill="#7587be"><rect x="2582.3" y="1002.4" width="15" height="3.3"/><rect x="2582.3" y="1007.6999999999999" width="15" height="3.3"/><rect x="2582.3" y="1013.0" width="15" height="3.4"/><path d="M2582.3 1017.6 H2597.3 V1032.4 H2605.3 L2589.8 1052.9 L2574.3 1032.4 H2582.3 Z"/></g><path d="M1676 925 V966" stroke="#1777c8" stroke-width="3.2" stroke-dasharray="3.2 2.6" fill="none"/><path d="M1668.6 965.5 H1683.4 L1676 977.5 Z" fill="#1777c8"/><path d="M1986.5 890.6C1990.6 889.5 2002.9 885.9 2011.0 884.1C2019.2 882.3 2026.7 881.0 2035.5 880.0C2044.4 879.0 2054.9 876.3 2064.1 878.4C2073.3 880.5 2081.4 884.8 2090.6 892.7C2099.8 900.5 2111.4 917.6 2119.2 925.3C2127.0 933.1 2131.1 937.7 2137.6 939.2C2144.0 940.7 2152.2 938.4 2158.0 934.3C2163.7 930.2 2169.9 918.0 2172.2 914.7" fill="none" stroke="#0b2a3c" stroke-width="3.2" stroke-linecap="round"/><path d="M2162.1 911.0 L2175.1 909.0 L2174.1 924.0" fill="none" stroke="#0b2a3c" stroke-width="3.4" stroke-linecap="round" stroke-linejoin="miter"/><circle cx="1986.5" cy="890.6" r="4.2" fill="#1f6a8c"/><circle cx="2035.5" cy="880.0" r="4.2" fill="#1f6a8c"/><circle cx="2119.2" cy="925.3" r="4.2" fill="#1f6a8c"/></svg>
<h3 class="t" style="left:1478.9px;top:1296.3px;font-family:'Liberation Sans',sans-serif;font-size:55px;font-weight:700;font-style:italic;color:#002060;transform-origin:0 52.0px;transform:scale(0.9125,1.0000);">Phase one: Learn z-conditioned policy and value function</h3>
<p class="t" style="left:1476.3px;top:1396.9px;font-family:'Liberation Sans',sans-serif;font-size:42px;color:#002060;transform-origin:0 39.0px;transform:scale(1.0162,1.0000);">Reachability Bellman Equation</p>
<div class="t" style="left:1591.4px;top:1493.0px;font-family:'Liberation Serif',serif;font-size:50.5px;font-family:'Liberation Serif','DejaVu Serif','DejaVu Sans',serif;color:#111;transform-origin:0 47.0px;transform:scale(0.9464,1.0000);"><i>V</i><span class="acc" style="margin-left:-0.372em;margin-right:0.039em;top:-0.20em">˜</span><span class="ss" style="font-size:0.7em;margin-left:0.1em"><span class="sb" style="top:-0.600em"><i>π</i></span><span class="sd" style="top:0.357em"><i>g</i><span class="acc" style="margin-left:-0.346em;margin-right:0.013em;top:-0.00em">ˆ</span></span></span><span style="display:inline-block;width:0.12em"></span>(<i>x</i><span class="ss" style="font-size:0.7em;margin-left:0.1em"><span class="sb" style="top:-0.600em"><i>π</i></span><span class="sd" style="top:0.357em"><i>t</i></span></span><span style="display:inline-block;width:0.3em"></span>, <i>y</i><span class="ss" style="font-size:0.7em;margin-left:0.1em"><span class="sb" style="top:-0.600em"><i>π</i></span><span class="sd" style="top:0.357em"><i>t</i></span></span><span style="display:inline-block;width:0.3em"></span>, <i>z</i><span class="ss" style="font-size:0.7em;margin-left:0.1em"><span class="sb" style="top:-0.600em"><i>π</i></span><span class="sd" style="top:0.357em"><i>t</i></span></span><span style="display:inline-block;width:0.3em"></span>) = min {<i>g</i><span class="acc" style="margin-left:-0.346em;margin-right:0.013em;top:-0.00em">ˆ</span>(<i>x</i><span class="ss" style="font-size:0.7em;margin-left:0.1em"><span class="sb" style="top:-0.600em"><i>π</i></span><span class="sd" style="top:0.357em"><i>t</i></span></span><span style="display:inline-block;width:0.3em"></span>,<span style="display:inline-block;width:0.2em"></span> <i>y</i><span class="ss" style="font-size:0.7em;margin-left:0.1em"><span class="sb" style="top:-0.600em"><i>π</i></span><span class="sd" style="top:0.357em"><i>t</i></span></span><span style="display:inline-block;width:0.3em"></span>, <i>z</i><span class="ss" style="font-size:0.7em;margin-left:0.1em"><span class="sb" style="top:-0.600em"><i>π</i></span><span class="sd" style="top:0.357em"><i>t</i></span></span><span style="display:inline-block;width:0.3em"></span>), <i>V</i><span class="acc" style="margin-left:-0.372em;margin-right:0.039em;top:-0.20em">˜</span><span class="ss" style="font-size:0.7em;margin-left:0.1em"><span class="sb" style="top:-0.600em"><i>π</i></span><span class="sd" style="top:0.357em"><i>g</i><span class="acc" style="margin-left:-0.346em;margin-right:0.013em;top:-0.00em">ˆ</span></span></span><span style="display:inline-block;width:0.12em"></span>(<i>x</i><span class="ss" style="font-size:0.7em;margin-left:0.1em"><span class="sb" style="top:-0.600em"><i>π</i></span><span class="sd" style="top:0.357em"><i>t</i>+1</span></span><span style="display:inline-block;width:0.9em"></span>, <i>y</i><span class="ss" style="font-size:0.7em;margin-left:0.1em"><span class="sb" style="top:-0.600em"><i>π</i></span><span class="sd" style="top:0.357em"><i>t</i>+1</span></span><span style="display:inline-block;width:0.9em"></span>, <i>z</i><span class="ss" style="font-size:0.7em;margin-left:0.1em"><span class="sb" style="top:-0.600em"><i>π</i></span><span class="sd" style="top:0.357em"><i>t</i>+1</span></span><span style="display:inline-block;width:0.9em"></span>)}</div>
<div class="t" style="left:1479.5px;top:1615.6px;font-family:'Liberation Sans',sans-serif;font-size:42px;color:#002060;">Existing</div>
<div class="t" style="left:1636.4px;top:1615.6px;font-family:'Liberation Sans',sans-serif;font-size:42px;font-style:italic;text-decoration-skip-ink:none;text-decoration:underline;text-decoration-thickness:2.5px;text-underline-offset:6px;color:#002060;transform-origin:0 39.0px;transform:scale(0.9938,1.0000);">off-the-shelf RL methods (PPO)</div>
<div class="t" style="left:2228.2px;top:1615.6px;font-family:'Liberation Sans',sans-serif;font-size:42px;color:#002060;transform-origin:0 39.0px;transform:scale(1.0145,1.0000);">can be used to learn policy</div>
<div class="t" style="left:1481.0px;top:1671.3px;font-family:'Liberation Sans',sans-serif;font-size:42px;color:#002060;transform-origin:0 39.0px;transform:scale(1.0404,1.0000);">and value function</div>
<h3 class="t" style="left:1482.0px;top:1764.9px;font-family:'Liberation Sans',sans-serif;font-size:55px;font-weight:700;font-style:italic;color:#002060;transform-origin:0 52.0px;transform:scale(0.9209,1.0000);">Phase two: Solve for the optimal z</h3>
<div class="t" style="left:1480.2px;top:1885.6px;font-family:'Liberation Sans',sans-serif;font-size:42px;color:#002060;transform-origin:0 39.0px;transform:scale(1.1787,1.0000);">1.</div>
<div class="t" style="left:1547.9px;top:1885.6px;font-family:'Liberation Sans',sans-serif;font-size:42px;color:#002060;transform-origin:0 39.0px;transform:scale(1.0345,1.0000);">Fine-tuning value function using deterministic policy</div>
<div class="t" style="left:1481.6px;top:1977.5px;font-family:'Liberation Sans',sans-serif;font-size:42px;color:#002060;transform-origin:0 39.0px;transform:scale(1.1346,1.0000);">2.</div>
<div class="t" style="left:1548.0px;top:1977.5px;font-family:'Liberation Sans',sans-serif;font-size:42px;color:#002060;transform-origin:0 39.0px;transform:scale(1.0177,1.0000);">For each x, calculate the minimum z where</div>
<div class="t" style="left:2370.2px;top:1973.5px;font-family:'Liberation Serif',serif;font-size:46px;font-family:'Liberation Serif','DejaVu Serif','DejaVu Sans',serif;color:#002060;transform-origin:0 43.0px;transform:scale(1.1373,1.0000);"><i>V</i><span class="acc" style="margin-left:-0.372em;margin-right:0.039em;top:-0.20em">˜</span><span class="ss" style="font-size:0.7em;margin-left:0.1em"><span class="sb" style="top:-0.600em"><i>π</i></span><span class="sd" style="top:0.357em"><i>g</i><span class="acc" style="margin-left:-0.346em;margin-right:0.013em;top:-0.00em">ˆ</span></span></span><span style="display:inline-block;width:0.12em"></span>(<i>x</i>, <i>y</i>, <i>z</i>) ≤ 0</div>
<div class="t" style="left:1548.8px;top:2067.5px;font-family:'Liberation Sans',sans-serif;font-size:42px;color:#002060;transform-origin:0 39.0px;transform:scale(1.0451,1.0000);">(maintain reach-avoid property within cost budget)</div>
<div class="a qr" style="left:1944px;top:2254.4px;width:431.7px;height:431.1px;border:16px solid #000;border-radius:26px;background:#fff;"></div>
<svg style="left:1999.0px;top:2304.3px" width="326" height="326" viewBox="0 0 326 326" shape-rendering="crispEdges" id="qr"><path d="M0.00 0.00h91.28v13.04h-91.28zM104.32 0.00h13.04v13.04h-13.04zM130.40 0.00h13.04v13.04h-13.04zM234.72 0.00h91.28v13.04h-91.28zM0.00 13.04h13.04v13.04h-13.04zM78.24 13.04h13.04v13.04h-13.04zM104.32 13.04h26.08v13.04h-26.08zM143.44 13.04h13.04v13.04h-13.04zM169.52 13.04h26.08v13.04h-26.08zM234.72 13.04h13.04v13.04h-13.04zM312.96 13.04h13.04v13.04h-13.04zM0.00 26.08h13.04v13.04h-13.04zM26.08 26.08h39.12v13.04h-39.12zM78.24 26.08h13.04v13.04h-13.04zM104.32 26.08h39.12v13.04h-39.12zM156.48 26.08h65.20v13.04h-65.20zM234.72 26.08h13.04v13.04h-13.04zM260.80 26.08h39.12v13.04h-39.12zM312.96 26.08h13.04v13.04h-13.04zM0.00 39.12h13.04v13.04h-13.04zM26.08 39.12h39.12v13.04h-39.12zM78.24 39.12h13.04v13.04h-13.04zM117.36 39.12h39.12v13.04h-39.12zM169.52 39.12h13.04v13.04h-13.04zM195.60 39.12h13.04v13.04h-13.04zM234.72 39.12h13.04v13.04h-13.04zM260.80 39.12h39.12v13.04h-39.12zM312.96 39.12h13.04v13.04h-13.04zM0.00 52.16h13.04v13.04h-13.04zM26.08 52.16h39.12v13.04h-39.12zM78.24 52.16h13.04v13.04h-13.04zM104.32 52.16h13.04v13.04h-13.04zM143.44 52.16h39.12v13.04h-39.12zM208.64 52.16h13.04v13.04h-13.04zM234.72 52.16h13.04v13.04h-13.04zM260.80 52.16h39.12v13.04h-39.12zM312.96 52.16h13.04v13.04h-13.04zM0.00 65.20h13.04v13.04h-13.04zM78.24 65.20h13.04v13.04h-13.04zM117.36 65.20h26.08v13.04h-26.08zM156.48 65.20h26.08v13.04h-26.08zM208.64 65.20h13.04v13.04h-13.04zM234.72 65.20h13.04v13.04h-13.04zM312.96 65.20h13.04v13.04h-13.04zM0.00 78.24h91.28v13.04h-91.28zM104.32 78.24h13.04v13.04h-13.04zM130.40 78.24h13.04v13.04h-13.04zM156.48 78.24h13.04v13.04h-13.04zM182.56 78.24h13.04v13.04h-13.04zM208.64 78.24h13.04v13.04h-13.04zM234.72 78.24h91.28v13.04h-91.28zM130.40 91.28h13.04v13.04h-13.04zM169.52 91.28h52.16v13.04h-52.16zM0.00 104.32h13.04v13.04h-13.04zM39.12 104.32h78.24v13.04h-78.24zM130.40 104.32h13.04v13.04h-13.04zM208.64 104.32h26.08v13.04h-26.08zM260.80 104.32h13.04v13.04h-13.04zM286.88 104.32h39.12v13.04h-39.12zM13.04 117.36h26.08v13.04h-26.08zM143.44 117.36h91.28v13.04h-91.28zM247.76 117.36h65.20v13.04h-65.20zM0.00 130.40h26.08v13.04h-26.08zM52.16 130.40h39.12v13.04h-39.12zM104.32 130.40h39.12v13.04h-39.12zM169.52 130.40h13.04v13.04h-13.04zM195.60 130.40h65.20v13.04h-65.20zM273.84 130.40h13.04v13.04h-13.04zM312.96 130.40h13.04v13.04h-13.04zM26.08 143.44h39.12v13.04h-39.12zM91.28 143.44h26.08v13.04h-26.08zM182.56 143.44h26.08v13.04h-26.08zM247.76 143.44h78.24v13.04h-78.24zM13.04 156.48h26.08v13.04h-26.08zM52.16 156.48h39.12v13.04h-39.12zM130.40 156.48h13.04v13.04h-13.04zM156.48 156.48h13.04v13.04h-13.04zM208.64 156.48h13.04v13.04h-13.04zM234.72 156.48h26.08v13.04h-26.08zM312.96 156.48h13.04v13.04h-13.04zM0.00 169.52h26.08v13.04h-26.08zM52.16 169.52h13.04v13.04h-13.04zM91.28 169.52h52.16v13.04h-52.16zM156.48 169.52h26.08v13.04h-26.08zM195.60 169.52h39.12v13.04h-39.12zM260.80 169.52h13.04v13.04h-13.04zM299.92 169.52h13.04v13.04h-13.04zM0.00 182.56h26.08v13.04h-26.08zM52.16 182.56h39.12v13.04h-39.12zM104.32 182.56h39.12v13.04h-39.12zM195.60 182.56h13.04v13.04h-13.04zM221.68 182.56h26.08v13.04h-26.08zM260.80 182.56h65.20v13.04h-65.20zM0.00 195.60h13.04v13.04h-13.04zM26.08 195.60h39.12v13.04h-39.12zM91.28 195.60h13.04v13.04h-13.04zM117.36 195.60h39.12v13.04h-39.12zM182.56 195.60h52.16v13.04h-52.16zM247.76 195.60h13.04v13.04h-13.04zM273.84 195.60h26.08v13.04h-26.08zM312.96 195.60h13.04v13.04h-13.04zM0.00 208.64h13.04v13.04h-13.04zM26.08 208.64h39.12v13.04h-39.12zM78.24 208.64h39.12v13.04h-39.12zM130.40 208.64h13.04v13.04h-13.04zM156.48 208.64h26.08v13.04h-26.08zM195.60 208.64h78.24v13.04h-78.24zM286.88 208.64h26.08v13.04h-26.08zM104.32 221.68h26.08v13.04h-26.08zM156.48 221.68h13.04v13.04h-13.04zM195.60 221.68h26.08v13.04h-26.08zM260.80 221.68h13.04v13.04h-13.04zM286.88 221.68h26.08v13.04h-26.08zM0.00 234.72h91.28v13.04h-91.28zM104.32 234.72h13.04v13.04h-13.04zM130.40 234.72h26.08v13.04h-26.08zM182.56 234.72h13.04v13.04h-13.04zM208.64 234.72h13.04v13.04h-13.04zM234.72 234.72h13.04v13.04h-13.04zM260.80 234.72h13.04v13.04h-13.04zM312.96 234.72h13.04v13.04h-13.04zM0.00 247.76h13.04v13.04h-13.04zM78.24 247.76h13.04v13.04h-13.04zM104.32 247.76h52.16v13.04h-52.16zM169.52 247.76h13.04v13.04h-13.04zM195.60 247.76h26.08v13.04h-26.08zM260.80 247.76h13.04v13.04h-13.04zM0.00 260.80h13.04v13.04h-13.04zM26.08 260.80h39.12v13.04h-39.12zM78.24 260.80h13.04v13.04h-13.04zM104.32 260.80h26.08v13.04h-26.08zM143.44 260.80h26.08v13.04h-26.08zM182.56 260.80h91.28v13.04h-91.28zM0.00 273.84h13.04v13.04h-13.04zM26.08 273.84h39.12v13.04h-39.12zM78.24 273.84h13.04v13.04h-13.04zM104.32 273.84h26.08v13.04h-26.08zM143.44 273.84h13.04v13.04h-13.04zM221.68 273.84h26.08v13.04h-26.08zM299.92 273.84h26.08v13.04h-26.08zM0.00 286.88h13.04v13.04h-13.04zM26.08 286.88h39.12v13.04h-39.12zM78.24 286.88h13.04v13.04h-13.04zM117.36 286.88h13.04v13.04h-13.04zM143.44 286.88h26.08v13.04h-26.08zM182.56 286.88h13.04v13.04h-13.04zM208.64 286.88h26.08v13.04h-26.08zM260.80 286.88h65.20v13.04h-65.20zM0.00 299.92h13.04v13.04h-13.04zM78.24 299.92h13.04v13.04h-13.04zM143.44 299.92h26.08v13.04h-26.08zM221.68 299.92h13.04v13.04h-13.04zM247.76 299.92h26.08v13.04h-26.08zM286.88 299.92h39.12v13.04h-39.12zM0.00 312.96h91.28v13.04h-91.28zM104.32 312.96h13.04v13.04h-13.04zM143.44 312.96h13.04v13.04h-13.04zM208.64 312.96h13.04v13.04h-13.04zM234.72 312.96h13.04v13.04h-13.04zM273.84 312.96h13.04v13.04h-13.04zM312.96 312.96h13.04v13.04h-13.04z" fill="#000"/></svg>
<div class="a pill" style="left:1944px;top:2702px;width:431.7px;height:110.8px;background:#000;border-radius:55.4px;"></div>
<div class="a" style="left:1955px;top:2713px;width:88.6px;height:88.6px;background:#fff;border-radius:50%;"></div>
<svg style="left:1977px;top:2722px" width="44" height="70" viewBox="0 0 44 70"><rect x="2" y="1" width="40" height="68" rx="7" fill="#000"/><rect x="7" y="11" width="30" height="43" fill="#fff"/><circle cx="22" cy="61.5" r="4" fill="#fff"/><rect x="14" y="4.5" width="16" height="3.6" rx="1.8" fill="#fff"/></svg>
<div class="t" style="left:2079.7px;top:2722.4px;font-family:'Liberation Sans',sans-serif;font-size:65px;color:#fff;transform-origin:0 61.0px;transform:scale(0.9719,1.0000);">Website</div>
<div class="a panel" style="left:2904px;top:447px;width:1371px;height:2332px;border:8px solid #002060;background:#fff;"></div>
<div class="a hdr" style="left:2932.5px;top:477px;width:1307px;height:126.5px;background:#002060;border:2px solid #2f5cae;"></div>
<h2 class="t" style="left:3394.7px;top:486.0px;font-family:'Liberation Serif',serif;font-size:78px;font-weight:700;color:#f2f2f2;transform-origin:0 73.0px;transform:scale(0.9781,1.0000);">Experiment</h2>
<h3 class="t" style="left:2939.3px;top:637.0px;font-family:'Liberation Sans',sans-serif;font-size:55px;font-weight:700;font-style:italic;color:#002060;transform-origin:0 52.0px;transform:scale(0.9396,1.0000);">Trajectory Comparison in Two Environments</h3>
<svg style="left:2990px;top:740px;font-family:'DejaVu Sans',sans-serif;filter:blur(0.7px)" width="570" height="390" viewBox="0 0 2292.0 1568.2" id="fig5a"><rect x="295" y="210" width="440" height="500" fill="#f7f7f7"/><path d="M295 250H735" stroke="#fff" stroke-width="3"/><path d="M295 338H735" stroke="#fff" stroke-width="3"/><path d="M295 427H735" stroke="#fff" stroke-width="3"/><path d="M295 515H735" stroke="#fff" stroke-width="3"/><path d="M295 603H735" stroke="#fff" stroke-width="3"/><path d="M295 691H735" stroke="#fff" stroke-width="3"/><path d="M300 210V710M730 210V710" stroke="#b9d184" stroke-width="7"/><text x="512.0" y="185.0" font-size="46" fill="#333" text-anchor="middle" >CPPO_<tspan font-style="italic" font-family="'DejaVu Serif',serif">X</tspan><tspan font-size="70%" dy="0.25em">H</tspan></text><text x="268.0" y="264.0" font-size="38" fill="#555" text-anchor="end" >5.0</text><path d="M283 250H292" stroke="#555" stroke-width="3"/><text x="268.0" y="352.0" font-size="38" fill="#555" text-anchor="end" >2.5</text><path d="M283 338H292" stroke="#555" stroke-width="3"/><text x="268.0" y="441.0" font-size="38" fill="#555" text-anchor="end" >0.0</text><path d="M283 427H292" stroke="#555" stroke-width="3"/><text x="268.0" y="529.0" font-size="38" fill="#555" text-anchor="end" >−2.5</text><path d="M283 515H292" stroke="#555" stroke-width="3"/><text x="268.0" y="617.0" font-size="38" fill="#555" text-anchor="end" >−5.0</text><path d="M283 603H292" stroke="#555" stroke-width="3"/><text x="268.0" y="705.0" font-size="38" fill="#555" text-anchor="end" >−7.5</text><path d="M283 691H292" stroke="#555" stroke-width="3"/><text x="300.0" y="762.0" font-size="36" fill="#555" text-anchor="middle" >0</text><path d="M300 710V720" stroke="#555" stroke-width="3"/><text x="515.0" y="762.0" font-size="36" fill="#555" text-anchor="middle" ><tspan font-style="italic">π</tspan></text><path d="M515.0 710V720" stroke="#555" stroke-width="3"/><text x="730.0" y="762.0" font-size="36" fill="#555" text-anchor="middle" >2<tspan font-style="italic">π</tspan></text><path d="M730 710V720" stroke="#555" stroke-width="3"/><text x="515.0" y="822.0" font-size="50" fill="#555" text-anchor="middle" ><tspan font-style="italic">θ</tspan></text><text x="135.0" y="462.0" font-size="50" fill="#555" text-anchor="middle" transform="rotate(-90 135 462)" dy="16"><tspan font-style="italic">ω</tspan></text><rect x="1003" y="210" width="437" height="500" fill="#f7f7f7"/><path d="M1003 320H1440" stroke="#fff" stroke-width="3"/><path d="M1003 472H1440" stroke="#fff" stroke-width="3"/><path d="M1003 625H1440" stroke="#fff" stroke-width="3"/><path d="M1008 210V710M1435 210V710" stroke="#b9d184" stroke-width="7"/><text x="1218.5" y="185.0" font-size="46" fill="#333" text-anchor="middle" >RESPO</text><text x="975.0" y="334.0" font-size="38" fill="#555" text-anchor="end" >5</text><path d="M991 320H1000" stroke="#555" stroke-width="3"/><text x="975.0" y="486.0" font-size="38" fill="#555" text-anchor="end" >0</text><path d="M991 472H1000" stroke="#555" stroke-width="3"/><text x="975.0" y="639.0" font-size="38" fill="#555" text-anchor="end" >−5</text><path d="M991 625H1000" stroke="#555" stroke-width="3"/><text x="1008.0" y="762.0" font-size="36" fill="#555" text-anchor="middle" >0</text><path d="M1008 710V720" stroke="#555" stroke-width="3"/><text x="1221.5" y="762.0" font-size="36" fill="#555" text-anchor="middle" ><tspan font-style="italic">π</tspan></text><path d="M1221.5 710V720" stroke="#555" stroke-width="3"/><text x="1435.0" y="762.0" font-size="36" fill="#555" text-anchor="middle" >2<tspan font-style="italic">π</tspan></text><path d="M1435 710V720" stroke="#555" stroke-width="3"/><text x="1221.5" y="822.0" font-size="50" fill="#555" text-anchor="middle" ><tspan font-style="italic">θ</tspan></text><text x="880.0" y="462.0" font-size="50" fill="#555" text-anchor="middle" transform="rotate(-90 880 462)" dy="16"><tspan font-style="italic">ω</tspan></text><rect x="1690" y="210" width="435" height="500" fill="#f7f7f7"/><path d="M1690 312H2125" stroke="#fff" stroke-width="3"/><path d="M1690 462H2125" stroke="#fff" stroke-width="3"/><path d="M1690 614H2125" stroke="#fff" stroke-width="3"/><path d="M1695 210V710M2120 210V710" stroke="#b9d184" stroke-width="7"/><text x="1904.5" y="185.0" font-size="46" fill="#333" text-anchor="middle" >RC-PPO</text><text x="1660.0" y="326.0" font-size="38" fill="#555" text-anchor="end" >5</text><path d="M1678 312H1687" stroke="#555" stroke-width="3"/><text x="1660.0" y="476.0" font-size="38" fill="#555" text-anchor="end" >0</text><path d="M1678 462H1687" stroke="#555" stroke-width="3"/><text x="1660.0" y="628.0" font-size="38" fill="#555" text-anchor="end" >−5</text><path d="M1678 614H1687" stroke="#555" stroke-width="3"/><text x="1695.0" y="762.0" font-size="36" fill="#555" text-anchor="middle" >0</text><path d="M1695 710V720" stroke="#555" stroke-width="3"/><text x="1907.5" y="762.0" font-size="36" fill="#555" text-anchor="middle" ><tspan font-style="italic">π</tspan></text><path d="M1907.5 710V720" stroke="#555" stroke-width="3"/><text x="2120.0" y="762.0" font-size="36" fill="#555" text-anchor="middle" >2<tspan font-style="italic">π</tspan></text><path d="M2120 710V720" stroke="#555" stroke-width="3"/><text x="1907.5" y="822.0" font-size="50" fill="#555" text-anchor="middle" ><tspan font-style="italic">θ</tspan></text><text x="1565.0" y="462.0" font-size="50" fill="#555" text-anchor="middle" transform="rotate(-90 1565 462)" dy="16"><tspan font-style="italic">ω</tspan></text><text x="728.0" y="200.0" font-size="40" fill="#b3cd7a" text-anchor="middle" >Goal</text><path d="M500.0 455.0C497.8 450.0 488.7 436.7 487.0 425.0C485.3 413.3 486.2 397.2 490.0 385.0C493.8 372.8 502.2 359.2 510.0 352.0C517.8 344.8 528.7 339.8 537.0 342.0C545.3 344.2 554.2 352.0 560.0 365.0C565.8 378.0 571.2 399.2 572.0 420.0C572.8 440.8 570.3 469.2 565.0 490.0C559.7 510.8 550.0 532.3 540.0 545.0C530.0 557.7 516.7 564.3 505.0 566.0C493.3 567.7 480.8 564.3 470.0 555.0C459.2 545.7 447.5 529.2 440.0 510.0C432.5 490.8 426.3 466.7 425.0 440.0C423.7 413.3 425.3 378.3 432.0 350.0C438.7 321.7 452.0 289.7 465.0 270.0C478.0 250.3 496.7 238.7 510.0 232.0C523.3 225.3 531.7 226.2 545.0 230.0C558.3 233.8 575.8 240.0 590.0 255.0C604.2 270.0 620.0 294.2 630.0 320.0C640.0 345.8 648.3 378.3 650.0 410.0C651.7 441.7 646.7 478.3 640.0 510.0C633.3 541.7 623.3 575.0 610.0 600.0C596.7 625.0 578.3 645.3 560.0 660.0C541.7 674.7 518.3 684.7 500.0 688.0C481.7 691.3 466.7 688.0 450.0 680.0C433.3 672.0 416.7 655.8 400.0 640.0C383.3 624.2 363.3 599.2 350.0 585.0C336.7 570.8 328.7 561.2 320.0 555.0C311.3 548.8 301.7 549.2 298.0 548.0" fill="none" stroke="#b0b0b0" stroke-width="5"/><path d="M1213.2 479.3L1214.0 478.4L1214.8 477.8L1215.8 477.4L1216.7 477.2L1217.7 477.2L1218.8 477.4L1219.8 477.8L1220.8 478.4L1221.8 479.2L1222.7 480.3L1223.6 481.5L1224.5 482.9L1225.2 484.4L1225.9 486.2L1226.4 488.1L1226.8 490.1L1227.1 492.3L1227.3 494.5L1227.3 496.8L1227.1 499.2L1226.8 501.6L1226.3 504.0L1225.7 506.4L1224.9 508.8L1223.9 511.0L1222.7 513.2L1221.4 515.3L1219.9 517.2L1218.3 518.9L1216.6 520.4L1214.7 521.7L1212.7 522.8L1210.7 523.6L1208.5 524.2L1206.3 524.4L1204.0 524.3L1201.7 523.9L1199.4 523.2L1197.0 522.2L1194.8 520.8L1192.5 519.1L1190.4 517.1L1188.3 514.7L1186.3 512.1L1184.5 509.1L1182.8 505.9L1181.3 502.4L1179.9 498.7L1178.8 494.7L1177.9 490.6L1177.2 486.3L1176.8 481.9L1176.6 477.5L1176.7 472.9L1177.1 468.3L1177.8 463.8L1178.7 459.3L1179.9 454.9L1181.4 450.6L1183.1 446.5L1185.1 442.6L1187.3 439.0L1189.7 435.6L1192.3 432.5L1195.1 429.8L1198.1 427.5L1201.2 425.5L1204.5 424.0L1207.9 422.9L1211.3 422.3L1214.8 422.1L1218.3 422.5L1221.9 423.3L1225.4 424.6L1228.8 426.4L1232.2 428.7L1235.4 431.4L1238.5 434.7L1241.5 438.3L1244.2 442.4L1246.8 446.9L1249.1 451.7L1251.1 456.9L1252.9 462.4L1254.3 468.1L1255.3 474.1L1256.0 480.2L1256.3 486.4L1256.2 492.7L1255.7 499.1L1254.9 505.4L1253.6 511.6L1251.9 517.7L1249.9 523.6L1247.5 529.3L1244.8 534.7L1241.8 539.8L1238.5 544.5L1234.9 548.8L1231.1 552.6L1227.0 555.9L1222.7 558.7L1218.3 560.9L1213.7 562.6L1209.0 563.6L1204.2 564.0L1199.3 563.7L1194.5 562.8L1189.7 561.2L1184.9 559.0L1180.3 556.1L1175.7 552.7L1171.4 548.5L1167.2 543.8L1163.3 538.6L1159.6 532.8L1156.2 526.5L1153.1 519.8L1150.4 512.6L1148.1 505.2L1146.3 497.4L1144.9 489.3L1144.0 481.1L1143.7 472.8L1143.9 464.4L1144.6 456.0L1145.9 447.7L1147.7 439.5L1150.0 431.5L1152.7 423.8L1155.8 416.4L1159.4 409.3L1163.3 402.8L1167.6 396.7L1172.2 391.2L1177.1 386.3L1182.2 382.1L1187.6 378.5L1193.2 375.7L1199.0 373.6L1204.8 372.3L1210.8 371.8L1216.8 372.1L1222.8 373.3L1228.7 375.2L1234.5 377.9L1240.2 381.5L1245.7 385.8L1251.1 390.9L1256.2 396.7L1261.0 403.1L1265.5 410.2L1269.7 417.9L1273.4 426.1L1276.7 434.8L1279.5 443.9L1281.7 453.4L1283.3 463.1L1284.2 473.0L1284.5 483.1L1284.0 493.2L1282.9 503.2L1281.0 513.2L1278.6 523.0L1275.5 532.4L1271.9 541.6L1267.8 550.3L1263.3 558.6L1258.3 566.2L1252.9 573.3L1247.2 579.7L1241.2 585.3L1234.9 590.1L1228.3 594.1L1221.5 597.2L1214.5 599.4L1207.4 600.6L1200.2 600.9L1192.9 600.2L1185.7 598.5L1178.6 595.9L1171.6 592.3L1164.8 587.8L1158.1 582.3L1151.7 576.0L1145.6 568.8L1139.7 560.9L1134.2 552.2L1129.1 542.8L1124.5 532.8L1120.4 522.2L1117.0 511.2L1114.2 499.8L1112.3 488.1L1111.1 476.2L1110.9 464.2L1111.5 452.1L1113.0 440.1L1115.2 428.2L1118.3 416.6L1122.1 405.3L1126.5 394.4L1131.4 384.0L1136.9 374.3L1142.8 365.2L1149.1 356.8L1155.8 349.3L1162.9 342.6L1170.2 336.9L1177.8 332.2L1185.7 328.5L1193.8 325.9L1202.0 324.4L1210.3 324.0L1218.6 324.7L1226.9 326.6L1235.0 329.5L1243.1 333.6L1250.9 338.8L1258.5 345.0L1265.9 352.3L1273.0 360.5L1279.8 369.6L1286.2 379.6L1292.2 390.3L1297.6 401.7L1302.4 413.8L1306.4 426.3L1309.6 439.3L1311.9 452.6L1313.1 466.2L1313.3 479.9L1312.4 493.6L1310.4 507.2L1307.5 520.6L1303.7 533.8L1299.0 546.5L1293.6 558.8L1287.6 570.4L1281.1 581.4L1274.1 591.5L1266.7 600.9L1258.9 609.2L1250.7 616.6L1242.3 622.8L1233.5 628.0L1224.5 631.9L1215.2 634.6L1205.8 636.1L1196.4 636.3L1186.9 635.2L1177.5 632.9L1168.1 629.2L1159.0 624.3L1150.1 618.2L1141.3 610.9L1132.9 602.4L1124.7 592.9L1116.8 582.3L1109.3 570.8L1102.3 558.4L1095.8 545.3L1090.1 531.5L1085.3 517.1L1081.4 502.2L1078.7 486.9L1077.2 471.5L1077.0 455.9L1078.1 440.2L1080.5 424.7L1084.0 409.4L1088.6 394.5L1094.2 380.0L1100.5 366.1L1107.5 352.9L1115.0 340.4L1123.0 328.9L1131.4 318.3L1140.2 308.8L1149.3 300.5L1158.8 293.3L1168.5 287.5L1178.6 283.0L1188.8 279.8L1199.2 278.1L1209.7 277.8L1220.3 278.9L1230.7 281.4L1241.0 285.4L1251.1 290.8L1261.0 297.6L1270.7 305.6L1280.2 315.0L1289.4 325.5L1298.3 337.2L1306.8 349.9L1314.8 363.6L1322.2 378.1L1328.9 393.4L1334.5 409.3L1338.9 425.7L1342.0 442.5L1343.7 459.6L1343.7 476.8L1342.3 494.0L1339.3 511.1L1335.0 527.9L1329.5 544.3L1322.9 560.2L1315.4 575.4L1307.3 589.9L1298.6 603.5L1289.4 616.1L1279.9 627.6L1270.0 637.9L1259.8 646.9L1249.2 654.6L1238.4 660.9L1227.2 665.6L1215.9 668.9L1204.3 670.6L1192.7 670.7L1181.1 669.2L1169.6 666.2L1158.2 661.6L1147.0 655.4L1136.0 647.7L1125.2 638.6L1114.6 628.1L1104.3 616.2L1094.2 603.1L1084.5 588.9L1075.2 573.6L1066.6 557.4L1058.9 540.4L1052.3 522.7L1047.0 504.5L1043.4 485.8L1041.5 466.9L1041.4 447.8L1043.1 428.7L1046.6 409.8L1051.6 391.2L1058.1 373.0L1065.8 355.4L1074.3 338.5L1083.6 322.5L1093.5 307.5L1103.7 293.5L1114.3 280.8L1125.1 269.4L1136.3 259.4L1147.8 250.8L1159.6 243.9L1171.7 238.6L1184.1 234.9L1196.6 232.9L1209.2 232.7L1221.8 234.2L1234.3 237.4C1340.3 264.9 1362.0 336.1 1435 375" fill="none" stroke="#d4624f" stroke-width="5"/><path d="M1907.2 461.0L1908.3 460.6L1909.3 460.5L1910.4 460.7L1911.5 461.0L1912.6 461.5L1913.6 462.2L1914.7 463.1L1915.6 464.1L1916.6 465.3L1917.4 466.7L1918.2 468.2L1918.9 469.8L1919.5 471.6L1919.9 473.4L1920.3 475.4L1920.6 477.4L1920.7 479.5L1920.6 481.7L1920.5 483.8L1920.2 486.0L1919.8 488.1L1919.2 490.3L1918.5 492.3L1917.6 494.3L1916.6 496.2L1915.5 498.0L1914.3 499.6L1912.9 501.1L1911.5 502.5L1909.9 503.6L1908.3 504.5L1906.6 505.3L1904.8 505.8L1903.0 506.1L1901.2 506.1L1899.3 505.9L1897.4 505.5L1895.6 504.8L1893.8 503.8L1892.0 502.6L1890.2 501.2L1888.6 499.5L1887.0 497.6L1885.6 495.4L1884.2 493.1L1883.0 490.6L1881.9 487.9L1881.0 485.0L1880.2 482.0L1879.7 478.9L1879.3 475.7L1879.1 472.4L1879.1 469.1L1879.3 465.8L1879.7 462.5L1880.3 459.2L1881.1 456.0L1882.1 452.8L1883.3 449.8L1884.6 447.0L1886.2 444.3L1887.9 441.8L1889.7 439.5L1891.7 437.4L1893.9 435.6L1896.1 434.1L1898.5 432.8L1900.9 431.9L1903.4 431.3L1905.9 431.0L1908.5 431.1L1911.0 431.4L1913.6 432.2L1916.1 433.2L1918.5 434.6L1920.9 436.4L1923.2 438.4L1925.4 440.8L1927.4 443.4L1929.3 446.3L1931.0 449.5L1932.6 452.9L1933.9 456.5L1935.0 460.3L1936.0 464.3L1936.6 468.4L1937.0 472.6L1937.2 476.8L1937.1 481.1L1936.7 485.4L1936.1 489.6L1935.2 493.8L1934.0 497.9L1932.6 501.8L1931.0 505.6L1929.1 509.2L1927.0 512.5L1924.8 515.6L1922.3 518.3L1919.7 520.8L1916.9 523.0L1914.0 524.7L1911.0 526.1L1907.9 527.1L1904.7 527.7L1901.5 527.9L1898.2 527.7L1895.0 527.1L1891.8 526.0L1888.7 524.5L1885.6 522.6L1882.6 520.3L1879.8 517.6L1877.1 514.5L1874.6 511.1L1872.3 507.3L1870.1 503.2L1868.2 498.9L1866.6 494.3L1865.2 489.5L1864.1 484.6L1863.4 479.4L1862.9 474.2L1862.8 469.0L1862.9 463.6L1863.4 458.4L1864.3 453.1L1865.4 448.0L1866.9 443.0L1868.7 438.2L1870.7 433.6L1873.0 429.3L1875.5 425.2L1878.3 421.5L1881.3 418.1L1884.5 415.2L1887.9 412.6L1891.4 410.5L1895.0 408.8L1898.7 407.6L1902.5 406.9L1906.4 406.7L1910.2 407.0L1914.1 407.8L1917.8 409.1L1921.6 410.9L1925.2 413.2L1928.7 415.9L1932.0 419.1L1935.2 422.8L1938.2 426.8L1940.9 431.3L1943.4 436.1L1945.6 441.2L1947.5 446.6L1949.1 452.2L1950.3 458.1L1951.2 464.0L1951.7 470.1L1951.8 476.3L1951.5 482.5L1950.9 488.6L1949.8 494.7L1948.4 500.6L1946.6 506.4L1944.5 512.0L1942.0 517.2L1939.2 522.2L1936.2 526.8L1932.9 531.1L1929.4 534.9L1925.6 538.3L1921.7 541.1L1917.6 543.5L1913.4 545.3L1909.0 546.6L1904.6 547.3L1900.1 547.5L1895.6 547.0L1891.2 546.0L1886.8 544.4L1882.5 542.2L1878.3 539.4L1874.3 536.1L1870.4 532.3L1866.8 528.0L1863.3 523.3L1860.2 518.0L1857.3 512.4L1854.8 506.5L1852.5 500.2L1850.7 493.7L1849.3 486.9L1848.3 480.0L1847.7 472.9L1847.6 465.8L1848.0 458.7L1848.8 451.6L1850.0 444.6L1851.7 437.8L1853.8 431.2L1856.3 424.8L1859.1 418.7L1862.3 413.0L1865.8 407.7L1869.6 402.9L1873.6 398.5L1877.9 394.7L1882.3 391.4L1887.0 388.7L1891.8 386.6L1896.7 385.2L1901.7 384.4L1906.8 384.2L1911.8 384.7L1916.8 385.9L1921.8 387.7L1926.6 390.2L1931.3 393.3L1935.9 397.0L1940.2 401.3L1944.3 406.1L1948.2 411.5L1951.7 417.3L1955.0 423.6L1957.8 430.3L1960.3 437.3L1962.4 444.7L1964.0 452.2L1965.1 460.0L1965.7 467.9L1965.8 475.8L1965.3 483.8L1964.3 491.7L1962.9 499.4L1960.9 507.0L1958.5 514.4L1955.6 521.4L1952.4 528.1L1948.8 534.4L1944.8 540.3L1940.5 545.6L1936.0 550.4L1931.2 554.6L1926.2 558.2L1921.0 561.1L1915.6 563.4L1910.1 564.9L1904.5 565.7L1898.8 565.8L1893.2 565.1L1887.6 563.8L1882.1 561.7L1876.7 558.8L1871.5 555.3L1866.4 551.1L1861.6 546.2L1857.0 540.8L1852.7 534.7L1848.7 528.2L1845.1 521.1L1841.9 513.6L1839.1 505.7L1836.8 497.5L1835.0 489.1L1833.7 480.4L1833.1 471.7L1833.0 462.8L1833.5 454.0L1834.6 445.2L1836.3 436.5L1838.6 428.1L1841.3 419.9L1844.5 412.1L1848.1 404.7L1852.2 397.7L1856.5 391.2L1861.3 385.3L1866.3 380.0L1871.6 375.3L1877.1 371.4L1882.9 368.1L1888.8 365.6L1894.8 363.9L1901.0 363.0L1907.2 362.9L1913.4 363.6L1919.5 365.1L1925.5 367.4L1931.4 370.5L1937.2 374.4L1942.7 378.9L1948.0 384.3L1953.0 390.2L1957.8 396.8L1962.1 404.0L1966.1 411.7L1969.7 419.9L1972.8 428.5L1975.3 437.5L1977.3 446.7L1978.7 456.1L1979.4 465.7L1979.4 475.3L1978.8 485.0L1977.5 494.5L1975.6 503.9L1973.0 513.1L1970.0 522.0L1966.4 530.5L1962.3 538.6L1957.9 546.1L1953.0 553.1L1947.8 559.5L1942.3 565.2L1936.5 570.3L1930.4 574.5L1924.1 578.0L1917.7 580.6L1911.1 582.4L1904.4 583.3L1897.6 583.3L1890.9 582.5L1884.2 580.8L1877.6 578.2L1871.2 574.8L1864.9 570.5L1858.9 565.4L1853.1 559.6L1847.6 553.0L1842.4 545.7L1837.6 537.9L1833.2 529.4L1829.3 520.5L1825.9 511.1L1823.1 501.3L1820.9 491.2L1819.4 480.9L1818.6 470.5L1818.6 459.9L1819.3 449.4L1820.7 439.0L1822.9 428.8L1825.7 418.8L1829.1 409.2L1833.0 399.9L1837.5 391.1L1842.4 382.9L1847.7 375.3L1853.3 368.3L1859.3 362.1L1865.6 356.7L1872.1 352.0L1878.9 348.3L1885.9 345.4L1893.0 343.4L1900.3 342.4L1907.5 342.4L1914.8 343.2L1922.0 345.1L1929.1 347.8L1936.0 351.5L1942.8 356.1L1949.3 361.6L1955.5 367.9L1961.4 374.9L1967.0 382.7L1972.2 391.2L1977.0 400.3L1981.3 409.9L1985.0 420.0L1988.1 430.5L1990.5 441.3L1992.1 452.4L1992.9 463.6L1993.0 474.9L1992.1 486.2L1990.5 497.3L1988.1 508.3L1985.0 519.0L1981.2 529.3L1976.9 539.2L1972.0 548.6L1966.7 557.4L1960.9 565.5L1954.8 572.9L1948.3 579.6L1941.6 585.4L1934.5 590.3L1927.2 594.2L1919.7 597.3L1912.0 599.3L1904.2 600.3L1896.4 600.3L1888.6 599.3L1880.9 597.3L1873.3 594.2L1865.9 590.2L1858.6 585.2L1851.7 579.3L1844.9 572.5L1838.5 564.8L1832.5 556.4L1826.8 547.3L1821.6 537.5L1817.0 527.1L1812.9 516.2L1809.5 504.9L1806.9 493.3L1805.1 481.4L1804.2 469.3L1804.2 457.2L1805.1 445.1L1806.9 433.1L1809.6 421.3L1813.0 409.8L1817.1 398.7L1821.8 388.1L1827.1 378.0L1832.9 368.6L1839.0 359.9L1845.6 351.9L1852.6 344.8L1859.8 338.6L1867.3 333.3L1875.1 329.0L1883.1 325.8L1891.3 323.6L1899.6 322.5L1907.9 322.4L1916.2 323.5L1924.4 325.7L1932.5 328.9L1940.4 333.2L1948.1 338.5L1955.6 344.7L1962.7 352.0L1969.6 360.1L1976.1 369.1L1982.2 378.8L1987.8 389.2L1992.8 400.2L1997.2 411.8L2000.9 423.8L2003.7 436.2L2005.6 448.8L2006.6 461.6L2006.5 474.5L2005.5 487.3L2003.5 500.0L2000.6 512.5L1996.9 524.7L1992.4 536.5L1987.3 547.7L1981.5 558.4L1975.3 568.4L1968.6 577.6L1961.6 586.0L1954.2 593.5L1946.4 600.0L1938.4 605.6L1930.1 610.1L1921.6 613.5L1912.9 615.7L1904.1 616.9L1895.3 616.8L1886.5 615.6L1877.7 613.3L1869.1 609.8L1860.7 605.2L1852.6 599.5L1844.6 592.8L1837.0 585.0L1829.7 576.3L1822.7 566.8L1816.2 556.4L1810.2 545.3L1804.7 533.5L1799.9 521.2L1796.0 508.4L1792.9 495.2L1790.8 481.8L1789.7 468.2L1789.8 454.5L1790.9 440.8L1793.1 427.3L1796.3 414.0L1800.3 401.1L1805.2 388.6L1810.7 376.6L1816.9 365.3L1823.5 354.6L1830.7 344.8L1838.2 335.9L1846.0 327.9L1854.2 321.0L1862.7 315.1L1871.5 310.3L1880.5 306.7L1889.6 304.2L1898.9 303.0L1908.2 303.0L1917.6 304.3L1926.8 306.7L1935.8 310.4L1944.7 315.2L1953.3 321.2L1961.7 328.3L1969.8 336.5L1977.6 345.6L1985.0 355.7L1991.9 366.6L1998.4 378.3L2004.3 390.7L2009.4 403.7L2013.7 417.2L2017.0 431.1L2019.2 445.3L2020.4 459.6L2020.3 474.0L2019.0 488.4L2016.6 502.7L2013.2 516.6L2008.8 530.3L2003.5 543.4L1997.5 556.0L1990.9 567.9L1983.8 579.1L1976.2 589.4L1968.2 598.7L1959.9 607.1L1951.2 614.4L1942.2 620.6L1933.0 625.5L1923.5 629.3L1913.8 631.8L1904.0 633.0L1894.2 633.0L1884.4 631.6L1874.7 628.9L1865.1 625.0L1855.8 619.9L1846.7 613.5L1837.8 605.9L1829.3 597.3L1821.0 587.6L1813.1 576.9L1805.7 565.3L1798.8 552.9L1792.5 539.8L1787.0 526.1L1782.3 511.9L1778.7 497.2L1776.3 482.2L1775.1 467.1L1775.2 451.8L1776.6 436.6L1779.1 421.6L1782.9 406.9L1787.7 392.5L1793.3 378.6L1799.7 365.3L1806.8 352.8L1814.4 341.0L1822.4 330.1L1830.9 320.2L1839.7 311.4L1848.8 303.7L1858.2 297.2L1867.9 291.9L1877.9 287.9L1888.0 285.3L1898.3 284.0L1908.6 284.0L1918.9 285.4L1929.0 288.2L1939.0 292.3L1948.9 297.7L1958.4 304.3L1967.7 312.2L1976.7 321.3L1985.4 331.4L1993.7 342.6L2001.6 354.8L2009.0 367.7L2015.7 381.5L2021.6 395.8L2026.6 410.8L2030.5 426.1L2033.1 441.8L2034.3 457.7L2034.2 473.6L2032.7 489.5L2029.9 505.3L2025.8 520.7L2020.7 535.7L2014.6 550.2L2007.7 564.1L2000.2 577.3L1992.1 589.5L1983.6 600.9L1974.6 611.2L1965.4 620.4L1955.8 628.4L1945.9 635.2L1935.7 640.7L1925.3 644.8L1914.7 647.5L1903.9 648.9L1893.1 648.8L1882.4 647.2L1871.7 644.3L1861.2 639.9L1850.9 634.2L1840.9 627.2L1831.1 618.9L1821.7 609.3L1812.5 598.6L1803.7 586.8L1795.3 574.1L1787.4 560.5L1780.2 546.0L1773.9 530.9L1768.6 515.2L1764.4 499.1L1761.6 482.6L1760.2 466.0L1760.4 449.2L1762.0 432.6L1765.0 416.0L1769.4 399.8L1774.9 384.1L1781.5 368.8L1788.8 354.3L1796.8 340.5L1805.4 327.6L1814.4 315.7L1823.8 304.9L1833.5 295.2L1843.5 286.8L1853.8 279.7L1864.5 273.9L1875.3 269.6L1886.4 266.7L1897.6 265.3L1908.9 265.4L1920.1 266.9L1931.2 270.0L1942.2 274.5L1952.9 280.4L1963.3 287.8L1973.5 296.4L1983.5 306.4L1993.1 317.5L2002.4 329.8L2011.3 343.1L2019.6 357.3L2027.3 372.4L2034.0 388.1L2039.7 404.4L2044.2 421.3L2047.2 438.4L2048.6 455.8L2048.5 473.2L2046.7 490.6L2043.4 507.8L2038.7 524.7L2032.7 541.1L2025.7 556.9L2017.9 572.1L2009.3 586.4L2000.3 599.8L1990.8 612.2L1980.9 623.5L1970.8 633.5L1960.3 642.2L1949.5 649.6L1938.4 655.6L1927.0 660.0L1915.5 663.0L1903.8 664.4L1892.1 664.3L1880.4 662.6L1868.8 659.4L1857.4 654.6L1846.2 648.3L1835.3 640.6L1824.6 631.5L1814.2 621.1L1804.1 609.5L1794.3 596.6L1784.9 582.7L1776.1 567.8L1767.9 552.1L1760.7 535.6L1754.6 518.5L1749.8 501.0L1746.6 483.1L1745.1 464.9L1745.2 446.7L1747.1 428.5L1750.7 410.6L1755.7 393.0L1762.1 375.8L1769.6 359.2L1777.9 343.4L1786.9 328.5L1796.5 314.4L1806.5 301.5L1816.8 289.8L1827.4 279.3L1838.3 270.2L1849.6 262.4L1861.1 256.2L1872.9 251.5L1884.9 248.4L1897.0 246.9L1909.2 247.0L1921.3 248.8L1933.3 252.1L1945.2 257.0L1956.8 263.5L1968.1 271.5L1979.2 280.9L1990.1 291.7L2000.7 303.8L2011.0 317.2L2020.9 331.6L2030.2 347.1L2038.9 363.4L2046.6 380.5L2053.1 398.2L2058.1 416.5L2061.6 435.1L2063.2 453.9L2063.0 472.8L2061.0 491.7L2057.1 510.3L2051.7 528.6L2044.9 546.4L2036.9 563.5L2028.1 579.9L2018.5 595.5L2008.4 610.0L1997.9 623.4L1987.1 635.5L1976.0 646.4L1964.6 655.8L1953.0 663.8L1941.0 670.2L1928.7 675.0L1916.3 678.2L1903.7 679.7L1891.1 679.6L1878.5 677.7L1866.0 674.2L1853.7 669.0L1841.6 662.2L1829.8 653.9L1818.3 644.0L1806.9 632.8L1795.8 620.1L1785.0 606.2L1774.6 591.2L1764.7 575.1L1755.5 558.1L1747.3 540.3L1740.4 521.8L1735.0 502.8L1731.3 483.5L1729.5 463.9L1729.8 444.2L1732.0 424.6L1736.1 405.2L1741.9 386.2L1749.1 367.7L1757.6 349.8L1767.0 332.7L1777.1 316.6L1787.7 301.5L1798.7 287.6L1809.9 274.9L1821.5 263.6L1833.3 253.8L1845.4 245.5L1857.8 238.8L1870.5 233.8L1883.4 230.4L1896.4 228.8L1909.5 229.0L1922.5 230.8L1935.4 234.5C2054.7 267.9 2039.4 392.9 2122 437" fill="none" stroke="#4a8fc2" stroke-width="5"/><rect x="489" y="445" width="22" height="20" fill="#222"/><rect x="1196" y="487" width="22" height="20" fill="#222"/><rect x="1884" y="477" width="22" height="20" fill="#222"/><rect x="410" y="900" width="1720" height="432" fill="#f7f7f7"/><path d="M487 900V1332" stroke="#fff" stroke-width="3"/><text x="487.0" y="1414.0" font-size="53" fill="#555" text-anchor="middle" >0</text><path d="M837 900V1332" stroke="#fff" stroke-width="3"/><text x="837.0" y="1414.0" font-size="53" fill="#555" text-anchor="middle" >100</text><path d="M1185 900V1332" stroke="#fff" stroke-width="3"/><text x="1185.0" y="1414.0" font-size="53" fill="#555" text-anchor="middle" >200</text><path d="M1532 900V1332" stroke="#fff" stroke-width="3"/><text x="1532.0" y="1414.0" font-size="53" fill="#555" text-anchor="middle" >300</text><path d="M1880 900V1332" stroke="#fff" stroke-width="3"/><text x="1880.0" y="1414.0" font-size="53" fill="#555" text-anchor="middle" >400</text><path d="M410 952H2130" stroke="#fff" stroke-width="3"/><text x="375.0" y="971.0" font-size="53" fill="#555" text-anchor="end" >600</text><path d="M392 952H405" stroke="#555" stroke-width="4"/><path d="M410 1073H2130" stroke="#fff" stroke-width="3"/><text x="375.0" y="1092.0" font-size="53" fill="#555" text-anchor="end" >400</text><path d="M392 1073H405" stroke="#555" stroke-width="4"/><path d="M410 1195H2130" stroke="#fff" stroke-width="3"/><text x="375.0" y="1214.0" font-size="53" fill="#555" text-anchor="end" >200</text><path d="M392 1195H405" stroke="#555" stroke-width="4"/><path d="M410 1317H2130" stroke="#fff" stroke-width="3"/><text x="375.0" y="1336.0" font-size="53" fill="#555" text-anchor="end" >0</text><path d="M392 1317H405" stroke="#555" stroke-width="4"/><text x="1272.0" y="1490.0" font-size="62" fill="#555" text-anchor="middle" >Timestep</text><text x="165.0" y="1115.0" font-size="62" fill="#555" text-anchor="middle" transform="rotate(-90 165 1115)">Cumulative</text><text x="238.0" y="1115.0" font-size="62" fill="#555" text-anchor="middle" transform="rotate(-90 238 1115)">Cost</text><path d="M487 1317L785 915" stroke="#b4b4b4" stroke-width="6" fill="none"/><path d="M487.0 1317.0C489.7 1316.8 497.8 1317.5 503.3 1315.8C508.7 1314.2 514.1 1309.2 519.5 1307.2C525.0 1305.1 530.4 1303.9 535.8 1303.3C541.2 1302.8 546.7 1305.0 552.1 1303.9C557.5 1302.8 563.0 1299.9 568.4 1296.8C573.8 1293.7 579.2 1287.0 584.6 1285.2C590.1 1283.4 595.5 1286.6 600.9 1286.0C606.3 1285.4 611.8 1283.6 617.2 1281.5C622.6 1279.3 628.1 1274.5 633.5 1273.0C638.9 1271.5 644.3 1272.8 649.8 1272.4C655.2 1272.1 660.6 1272.4 666.0 1270.7C671.4 1268.9 676.9 1263.8 682.3 1261.8C687.7 1259.8 693.2 1259.2 698.6 1258.7C704.0 1258.3 709.4 1260.2 714.9 1259.0C720.3 1257.7 725.7 1253.6 731.1 1251.3C736.5 1249.1 742.0 1246.3 747.4 1245.5C752.8 1244.6 758.2 1247.1 763.7 1246.3C769.1 1245.6 774.5 1243.3 780.0 1241.0C785.4 1238.8 790.8 1234.4 796.2 1233.0C801.6 1231.6 807.1 1233.3 812.5 1232.9C817.9 1232.5 823.4 1232.3 828.8 1230.4C834.2 1228.5 839.6 1223.4 845.0 1221.5C850.5 1219.7 855.9 1219.6 861.3 1219.2C866.8 1218.7 872.2 1220.4 877.6 1219.0C883.0 1217.6 888.5 1213.1 893.9 1210.9C899.3 1208.7 904.7 1206.4 910.1 1205.7C915.6 1205.0 921.0 1207.4 926.4 1206.6C931.8 1205.7 937.3 1202.9 942.7 1200.6C948.1 1198.4 953.6 1194.2 959.0 1193.0C964.4 1191.8 969.8 1193.8 975.2 1193.3C980.7 1192.8 986.1 1192.1 991.5 1190.1C996.9 1188.1 1002.4 1183.1 1007.8 1181.3C1013.2 1179.6 1018.7 1180.0 1024.1 1179.6C1029.5 1179.2 1034.9 1180.5 1040.3 1178.9C1045.8 1177.4 1051.2 1171.8 1056.6 1170.5C1062.0 1169.2 1067.5 1170.8 1072.9 1171.0C1078.3 1171.2 1083.8 1172.8 1089.2 1171.8C1094.6 1170.8 1100.0 1167.4 1105.5 1165.2C1110.9 1162.9 1116.3 1159.5 1121.7 1158.1C1127.1 1156.7 1135.3 1157.2 1138.0 1157.0" stroke="#d4624f" stroke-width="6" fill="none" stroke-linecap="round"/><path d="M487.0 1317.0C495.7 1316.4 521.9 1314.8 539.3 1313.4C556.8 1311.9 574.2 1309.3 591.7 1308.1C609.1 1306.9 626.6 1307.3 644.0 1306.4C661.4 1305.6 678.9 1304.2 696.3 1303.0C713.8 1301.7 731.2 1299.8 748.7 1298.9C766.1 1298.0 783.6 1298.7 801.0 1297.8C818.4 1297.0 835.9 1294.8 853.3 1293.7C870.8 1292.5 888.2 1291.6 905.7 1290.9C923.1 1290.2 940.6 1290.5 958.0 1289.6C975.4 1288.6 992.9 1286.1 1010.3 1285.1C1027.8 1284.1 1045.2 1284.1 1062.7 1283.5C1080.1 1282.9 1097.6 1282.4 1115.0 1281.4C1132.4 1280.3 1149.9 1278.0 1167.3 1277.2C1184.8 1276.4 1202.2 1277.0 1219.7 1276.4C1237.1 1275.7 1254.6 1274.3 1272.0 1273.2C1289.4 1272.2 1306.9 1270.6 1324.3 1269.9C1341.8 1269.3 1359.2 1270.0 1376.7 1269.2C1394.1 1268.5 1411.6 1266.3 1429.0 1265.3C1446.4 1264.3 1463.9 1263.7 1481.3 1263.1C1498.8 1262.6 1516.2 1262.8 1533.7 1261.9C1551.1 1261.0 1568.6 1258.6 1586.0 1257.7C1603.4 1256.9 1620.9 1257.2 1638.3 1256.6C1655.8 1256.1 1673.2 1255.5 1690.7 1254.5C1708.1 1253.5 1725.6 1251.4 1743.0 1250.7C1760.4 1250.0 1777.9 1250.8 1795.3 1250.2C1812.8 1249.5 1830.2 1247.9 1847.7 1246.9C1865.1 1245.9 1882.6 1244.7 1900.0 1244.1C1917.4 1243.5 1934.9 1244.3 1952.3 1243.5C1969.8 1242.7 1987.2 1240.5 2004.7 1239.6C2022.1 1238.6 2048.3 1238.2 2057.0 1237.9" stroke="#4a8fc2" stroke-width="6" fill="none" stroke-linecap="round"/><text x="805.0" y="965.0" font-size="60" fill="#bdbdbd" text-anchor="start" >CPPO_<tspan font-style="italic" font-family="'DejaVu Serif',serif">X</tspan><tspan font-size="70%" dy="0.25em">H</tspan></text><text x="1010.0" y="1138.0" font-size="62" fill="#d4624f" text-anchor="start" >RESPO</text><text x="1888.0" y="1220.0" font-size="62" fill="#4a8fc2" text-anchor="start" >RC-PPO</text></svg>
<svg style="left:3640px;top:740px;font-family:'DejaVu Sans',sans-serif;filter:blur(0.7px)" width="570" height="390" viewBox="0 0 2292.0 1568.2" id="fig5b"><clipPath id="qclip"><rect x="390" y="62" width="1345" height="769"/></clipPath><g clip-path="url(#qclip)"><path d="M405 107L395 73L415 73ZM405 157L395 123L415 123ZM404 207L396 173L416 173ZM405 257L395 223L415 223ZM405 307L395 273L415 273ZM405 357L395 323L415 323ZM406 407L394 373L414 373ZM405 457L395 423L415 423ZM405 507L395 473L415 473ZM404 557L396 523L416 523ZM406 607L394 573L414 573ZM405 657L395 623L415 623ZM406 707L394 673L414 673ZM404 757L396 723L416 723ZM405 807L395 773L415 773ZM406 857L394 823L414 823ZM452 107L443 73L463 74ZM452 157L443 123L463 124ZM452 207L443 173L463 173ZM452 257L443 223L463 223ZM453 307L442 273L462 273ZM453 357L442 324L462 323ZM453 407L443 373L463 373ZM453 457L442 423L462 423ZM453 507L442 473L462 473ZM453 557L442 523L462 523ZM453 607L442 574L462 573ZM453 657L443 623L463 623ZM453 707L442 673L462 673ZM452 757L443 723L463 723ZM453 807L443 773L463 773ZM452 857L443 823L463 823ZM500 107L490 73L510 73ZM500 157L490 123L510 123ZM500 207L490 173L510 173ZM501 257L490 223L510 223ZM499 307L491 273L511 274ZM499 357L491 323L511 324ZM500 407L491 373L511 373ZM500 457L491 423L511 423ZM501 507L490 473L510 473ZM501 557L490 523L510 523ZM501 607L490 573L510 573ZM501 657L489 623L509 623ZM500 707L491 673L511 673ZM500 757L490 723L510 723ZM500 807L491 773L511 773ZM500 857L490 823L510 823ZM547 107L539 73L559 73ZM547 157L538 123L558 123ZM549 207L537 174L557 173ZM548 257L537 223L557 223ZM547 307L539 273L559 273ZM548 357L538 323L558 323ZM547 407L539 373L559 374ZM548 457L538 423L558 423ZM549 507L537 473L557 473ZM548 557L538 523L558 523ZM547 607L538 573L558 573ZM548 657L537 623L557 623ZM549 707L537 673L557 673ZM548 757L538 723L558 723ZM547 807L539 773L559 774ZM547 857L538 823L558 823ZM595 93L589 66L603 67ZM595 143L589 117L603 117ZM595 193L589 166L603 167ZM609 231L582 236L583 222ZM595 293L589 266L603 267ZM595 343L589 316L603 317ZM595 393L589 366L603 367ZM595 445L589 415L603 416ZM595 494L589 466L603 467ZM595 543L589 516L603 517ZM595 594L589 565L603 566ZM595 643L589 617L603 617ZM595 693L589 666L603 667ZM595 744L589 715L603 716ZM595 794L589 766L603 767ZM595 843L589 817L603 817ZM646 78L642 85L638 80ZM646 127L642 135L638 130ZM647 176L642 186L637 181ZM656 231L630 235L631 222ZM645 276L644 285L638 282ZM647 326L642 337L636 332ZM645 375L645 387L637 384ZM646 423L644 439L636 435ZM644 472L647 489L638 488ZM645 522L646 539L637 537ZM642 573L648 587L639 588ZM640 622L650 636L642 639ZM640 673L650 685L642 689ZM639 724L650 734L643 738ZM640 775L649 783L642 786ZM639 826L649 831L644 836ZM693 77L690 85L686 81ZM695 127L688 135L685 130ZM694 177L689 185L685 180ZM702 230L679 237L679 224ZM694 275L690 287L684 282ZM693 324L692 337L684 334ZM694 373L691 389L683 385ZM693 422L693 439L684 437ZM695 471L691 491L682 487ZM692 520L694 540L684 539ZM690 571L696 589L686 589ZM687 622L699 636L689 640ZM689 671L697 688L687 690ZM688 723L697 736L688 738ZM687 774L698 784L691 788ZM687 825L697 833L691 837ZM742 79L736 84L734 78ZM742 128L736 135L733 130ZM743 178L735 185L732 179ZM751 232L724 234L727 221ZM743 275L736 288L730 283ZM745 324L734 339L728 332ZM743 372L738 391L729 386ZM744 422L737 441L728 435ZM741 471L740 491L730 487ZM740 521L742 540L732 539ZM736 571L746 588L735 591ZM738 620L744 640L733 640ZM735 671L746 687L736 691ZM734 721L747 736L738 741ZM732 773L748 784L740 790ZM732 826L747 831L742 838ZM789 77L784 85L780 80ZM789 128L784 135L781 129ZM791 178L783 185L780 179ZM797 233L773 234L776 221ZM791 274L784 289L777 283ZM793 324L782 340L776 332ZM791 371L785 391L776 386ZM791 423L785 440L777 435ZM790 473L786 489L778 485ZM787 523L789 538L780 536ZM785 572L791 588L782 589ZM785 621L792 638L782 639ZM781 672L795 685L786 690ZM780 723L796 733L788 740ZM779 773L797 783L789 791ZM780 823L795 833L788 840ZM837 79L830 84L829 78ZM838 128L831 135L828 130ZM838 177L830 186L827 180ZM840 226L829 238L824 230ZM841 275L829 289L823 280ZM842 325L827 340L822 330ZM839 374L831 389L824 382ZM837 423L834 439L826 435ZM835 473L836 487L828 486ZM835 524L836 536L829 535ZM833 575L837 585L830 585ZM830 625L840 633L833 637ZM828 675L842 682L836 688ZM827 725L843 731L836 739ZM825 775L844 780L840 789ZM825 825L844 831L839 840ZM886 79L877 84L876 78ZM887 129L876 134L875 127ZM887 177L877 187L873 179ZM888 226L876 239L871 230ZM890 276L874 289L869 279ZM888 325L877 339L871 331ZM887 375L878 388L872 382ZM885 426L879 437L874 432ZM884 476L881 486L875 482ZM883 525L882 536L876 534ZM879 575L886 584L880 586ZM879 626L886 633L880 635ZM877 676L888 682L883 687ZM876 725L889 732L883 738ZM873 775L892 781L886 789ZM872 824L893 831L887 840ZM933 79L924 84L923 78ZM934 128L924 135L922 128ZM937 179L921 185L920 176ZM938 229L920 237L918 226ZM940 279L918 287L916 275ZM938 329L920 336L919 326ZM935 378L924 386L921 378ZM934 428L925 435L922 429ZM931 477L928 485L924 481ZM930 526L930 535L924 533ZM928 576L932 584L926 585ZM925 627L934 631L931 636ZM924 678L935 679L932 685ZM923 728L935 728L933 735ZM922 777L937 779L933 788ZM919 829L939 826L937 837ZM981 80L971 83L971 77ZM983 130L969 134L969 126ZM986 179L967 186L966 176ZM987 227L967 239L964 227ZM988 279L965 288L964 275ZM986 330L967 336L966 325ZM983 379L970 385L968 377ZM981 429L972 434L971 428ZM981 478L973 485L970 479ZM979 528L975 535L971 530ZM974 575L981 583L975 586ZM972 628L982 629L979 635ZM972 679L981 678L980 684ZM988 731L964 735L966 722ZM988 781L964 785L965 772ZM967 828L987 827L984 837ZM1029 80L1019 83L1019 77ZM1030 129L1018 135L1017 127ZM1034 180L1014 185L1014 175ZM1036 233L1011 234L1013 221ZM1036 280L1011 286L1012 273ZM1035 330L1013 335L1013 324ZM1031 382L1016 382L1018 374ZM1028 430L1019 433L1019 426ZM1029 481L1018 482L1020 476ZM1028 531L1018 532L1020 526ZM1021 583L1024 575L1029 579ZM1019 631L1027 626L1029 631ZM1019 681L1028 676L1029 682ZM1036 729L1012 737L1011 724ZM1036 781L1011 785L1013 772ZM1015 832L1032 823L1034 833ZM1070 93L1066 66L1080 68ZM1070 143L1065 117L1079 118ZM1069 193L1067 165L1081 168ZM1069 244L1067 215L1081 218ZM1068 294L1068 264L1082 268ZM1070 343L1066 316L1080 318ZM1070 394L1066 365L1080 367ZM1076 433L1065 430L1069 424ZM1076 483L1065 480L1069 475ZM1073 533L1067 528L1072 525ZM1070 584L1071 575L1076 578ZM1068 632L1073 625L1076 630ZM1067 683L1074 675L1077 680ZM1084 730L1059 737L1059 724ZM1083 783L1058 783L1062 771ZM1062 832L1080 823L1082 833ZM1116 94L1115 64L1130 68ZM1118 144L1112 115L1128 116ZM1116 195L1114 164L1129 167ZM1118 244L1113 215L1128 216ZM1114 295L1116 263L1131 268ZM1118 345L1112 314L1127 315ZM1115 394L1115 364L1130 368ZM1125 435L1111 429L1116 422ZM1123 484L1113 478L1118 473ZM1121 535L1114 527L1120 524ZM1118 584L1117 575L1123 577ZM1116 635L1119 624L1125 627ZM1115 684L1120 674L1125 679ZM1130 731L1107 735L1108 722ZM1131 782L1105 784L1108 771ZM1109 832L1127 823L1130 833ZM1163 96L1162 62L1178 66ZM1163 145L1163 113L1179 117ZM1163 196L1163 162L1179 166ZM1164 247L1161 212L1177 215ZM1163 296L1162 262L1178 266ZM1164 346L1161 312L1177 315ZM1164 396L1161 363L1177 365ZM1174 436L1156 428L1162 420ZM1170 487L1159 475L1168 471ZM1169 537L1161 524L1168 522ZM1165 586L1164 573L1172 575ZM1163 636L1166 622L1173 626ZM1162 686L1168 671L1175 677ZM1179 732L1153 735L1155 722ZM1178 783L1154 783L1157 771ZM1158 835L1173 821L1178 830ZM1212 94L1209 65L1224 67ZM1212 144L1209 115L1224 117ZM1210 194L1211 164L1226 168ZM1210 244L1211 213L1226 218ZM1211 295L1210 263L1225 267ZM1211 346L1210 313L1225 316ZM1210 394L1211 363L1226 368ZM1221 441L1201 423L1213 415ZM1218 491L1204 472L1216 467ZM1218 540L1206 522L1216 518ZM1214 590L1210 570L1220 571ZM1211 639L1213 619L1223 623ZM1210 690L1214 668L1224 673ZM1227 730L1202 736L1202 723ZM1226 779L1203 787L1202 774ZM1208 837L1216 819L1224 827ZM1260 94L1257 65L1271 67ZM1261 144L1256 116L1269 116ZM1261 194L1256 166L1270 166ZM1259 244L1257 215L1271 217ZM1259 294L1257 265L1271 267ZM1259 345L1257 314L1272 316ZM1259 395L1257 363L1273 366ZM1268 445L1248 419L1263 412ZM1268 493L1249 470L1263 464ZM1263 543L1253 517L1268 516ZM1261 594L1256 566L1270 567ZM1259 642L1258 616L1272 619ZM1256 692L1262 665L1274 672ZM1254 740L1265 716L1275 725ZM1252 787L1268 768L1275 778ZM1255 835L1266 821L1272 829ZM1314 82L1304 81L1306 75ZM1313 133L1304 129L1308 125ZM1313 183L1304 180L1308 175ZM1314 235L1302 228L1308 223ZM1303 293L1310 264L1322 271ZM1304 344L1308 314L1321 319ZM1302 391L1310 365L1323 373ZM1304 444L1307 413L1322 418ZM1305 495L1306 462L1322 467ZM1305 545L1306 512L1322 517ZM1302 593L1309 563L1323 570ZM1305 643L1307 614L1321 619ZM1302 691L1310 665L1322 673ZM1302 742L1311 714L1323 722ZM1303 787L1312 770L1320 777ZM1305 835L1311 822L1317 827ZM1360 83L1352 79L1356 75ZM1361 133L1351 129L1355 124ZM1361 183L1351 180L1355 175ZM1360 235L1351 228L1356 223ZM1352 292L1355 265L1369 270ZM1353 343L1354 315L1368 319ZM1351 393L1356 364L1369 370ZM1350 441L1358 415L1370 422ZM1351 492L1357 465L1370 472ZM1350 542L1358 514L1370 521ZM1353 593L1354 565L1368 569ZM1352 642L1355 615L1369 620ZM1351 693L1357 664L1370 670ZM1349 742L1359 715L1371 722ZM1353 785L1358 772L1365 777ZM1354 835L1357 823L1363 827ZM1408 84L1399 78L1404 74ZM1408 132L1400 130L1403 125ZM1408 183L1400 179L1404 175ZM1408 233L1399 229L1404 225ZM1398 293L1404 264L1417 270ZM1397 342L1406 314L1418 322ZM1397 392L1406 364L1418 371ZM1401 443L1401 415L1415 419ZM1398 493L1405 464L1418 470ZM1398 541L1405 515L1418 522ZM1398 591L1405 565L1418 572ZM1397 643L1406 614L1418 621ZM1398 692L1404 665L1417 672ZM1398 742L1405 715L1417 721ZM1402 785L1404 773L1410 776ZM1402 834L1405 824L1410 828ZM1455 83L1447 80L1451 75ZM1455 134L1447 128L1452 125ZM1455 183L1447 179L1452 175ZM1455 234L1447 228L1452 224ZM1447 293L1451 264L1464 270ZM1445 342L1454 314L1466 322ZM1444 392L1454 364L1466 372ZM1446 443L1452 414L1465 420ZM1447 493L1451 465L1464 470ZM1445 543L1453 514L1466 521ZM1448 593L1450 565L1463 570ZM1447 644L1451 614L1464 619ZM1447 692L1450 665L1464 670ZM1445 742L1453 715L1465 722ZM1451 784L1450 775L1457 776ZM1449 834L1452 824L1458 827ZM1503 82L1495 80L1498 75ZM1503 133L1495 130L1499 125ZM1503 183L1494 179L1499 175ZM1502 233L1495 228L1500 225ZM1495 293L1498 265L1511 270ZM1495 343L1498 314L1512 320ZM1494 392L1499 365L1512 371ZM1492 441L1501 415L1513 423ZM1492 491L1502 465L1514 473ZM1496 544L1497 514L1511 518ZM1494 593L1499 564L1512 570ZM1495 644L1498 614L1512 619ZM1495 692L1497 665L1511 670ZM1494 743L1499 714L1512 720ZM1498 784L1499 775L1505 778ZM1498 834L1498 825L1504 828ZM1554 86L1538 78L1545 70ZM1552 138L1538 125L1547 120ZM1553 188L1538 174L1547 169ZM1553 237L1538 226L1546 220ZM1553 288L1538 275L1546 269ZM1550 334L1542 328L1547 324ZM1548 385L1544 376L1550 375ZM1549 434L1543 428L1549 425ZM1548 484L1544 476L1550 476ZM1548 534L1544 526L1550 526ZM1546 584L1545 575L1551 576ZM1546 634L1546 625L1551 627ZM1546 684L1546 675L1552 677ZM1546 733L1546 725L1552 728ZM1545 783L1547 775L1552 778ZM1545 834L1547 825L1552 828ZM1602 86L1585 77L1591 70ZM1601 137L1585 127L1593 120ZM1601 186L1585 177L1593 170ZM1600 238L1586 224L1595 219ZM1600 288L1586 274L1595 269ZM1597 334L1590 328L1595 325ZM1597 385L1591 376L1596 374ZM1595 434L1592 426L1598 425ZM1596 484L1591 477L1596 475ZM1595 534L1592 526L1598 526ZM1595 584L1592 576L1598 576ZM1595 635L1592 625L1598 625ZM1594 684L1593 675L1599 677ZM1594 734L1593 725L1599 727ZM1594 784L1593 775L1599 777ZM1594 834L1594 825L1599 827ZM1649 87L1633 76L1641 70ZM1648 137L1633 127L1641 120ZM1646 188L1634 174L1643 170ZM1645 239L1635 223L1645 220ZM1645 288L1635 273L1645 270ZM1643 334L1639 327L1645 326ZM1644 383L1638 378L1644 375ZM1643 435L1639 426L1645 425ZM1644 484L1639 477L1644 475ZM1642 534L1640 525L1646 526ZM1643 584L1639 577L1645 576ZM1643 634L1639 626L1645 626ZM1642 684L1640 676L1646 677ZM1641 734L1642 725L1647 728ZM1641 784L1641 775L1647 777ZM1640 834L1642 824L1648 827ZM1696 87L1681 76L1689 70ZM1695 137L1681 126L1690 120ZM1695 188L1681 175L1690 169ZM1693 239L1683 222L1693 220ZM1693 289L1682 273L1692 270ZM1692 333L1686 328L1691 325ZM1692 384L1686 377L1692 375ZM1692 434L1686 427L1692 425ZM1691 485L1687 476L1693 475ZM1690 534L1688 525L1694 526ZM1691 585L1687 576L1693 575ZM1689 634L1688 625L1694 627ZM1690 684L1688 675L1694 676ZM1690 735L1688 725L1694 726ZM1688 784L1690 775L1695 778ZM1688 834L1690 824L1695 827ZM1744 87L1728 76L1735 69ZM1742 138L1729 125L1738 120ZM1743 187L1728 176L1737 170ZM1741 239L1730 223L1739 219ZM1742 289L1729 273L1738 269ZM1739 334L1734 327L1739 325ZM1740 385L1733 377L1739 374ZM1739 435L1733 426L1739 424ZM1738 484L1734 476L1740 475ZM1738 534L1735 526L1741 526ZM1737 585L1736 575L1742 576ZM1737 634L1736 625L1742 626ZM1738 685L1735 675L1741 675ZM1737 735L1736 725L1741 726ZM1737 784L1736 775L1742 776ZM1736 833L1737 825L1742 828Z" fill="#808080"/><path d="M405 68V822M453 68V822M500 68V822M548 68V822" stroke="#808080" stroke-width="5"/></g><rect x="1308" y="65" width="142" height="113" fill="#000"/><rect x="582" y="277" width="128" height="136" fill="#000"/><rect x="818" y="277" width="154" height="126" fill="#000"/><rect x="1082" y="478" width="188" height="174" fill="#000"/><rect x="1390" y="587" width="118" height="115" fill="#000"/><rect x="830" y="772" width="178" height="58" fill="#000"/><rect x="1055" y="750" width="190" height="80" fill="#000"/><rect x="1578" y="773" width="149" height="57" fill="#c3d99d" fill-opacity="0.9"/><text x="1760.0" y="822.0" font-size="58" fill="#a9c56e" text-anchor="start" >Goal</text><path d="M460.0 245.0C466.7 235.8 485.8 204.2 500.0 190.0C514.2 175.8 520.0 165.3 545.0 160.0C570.0 154.7 607.5 158.8 650.0 158.0C692.5 157.2 741.7 156.3 800.0 155.0C858.3 153.7 946.7 148.3 1000.0 150.0C1053.3 151.7 1081.7 151.7 1120.0 165.0C1158.3 178.3 1196.7 202.5 1230.0 230.0C1263.3 257.5 1283.3 286.7 1320.0 330.0C1356.7 373.3 1403.3 433.3 1450.0 490.0C1496.7 546.7 1566.7 627.5 1600.0 670.0C1633.3 712.5 1639.2 725.8 1650.0 745.0C1660.8 764.2 1662.5 778.3 1665.0 785.0" stroke="#b8b8b8" stroke-width="6.5" fill="none"/><path d="M460.0 245.0C466.7 235.0 485.8 201.2 500.0 185.0C514.2 168.8 525.0 158.5 545.0 148.0C565.0 137.5 569.2 130.0 620.0 122.0C670.8 114.0 778.3 100.7 850.0 100.0C921.7 99.3 995.0 104.7 1050.0 118.0C1105.0 131.3 1138.3 149.7 1180.0 180.0C1221.7 210.3 1255.0 246.7 1300.0 300.0C1345.0 353.3 1403.3 440.0 1450.0 500.0C1496.7 560.0 1547.5 620.8 1580.0 660.0C1612.5 699.2 1630.8 714.2 1645.0 735.0C1659.2 755.8 1661.7 776.7 1665.0 785.0" stroke="#d4624f" stroke-width="6.5" fill="none"/><path d="M460.0 245.0C470.0 260.8 503.3 310.8 520.0 340.0C536.7 369.2 540.0 386.7 560.0 420.0C580.0 453.3 611.7 506.7 640.0 540.0C668.3 573.3 703.3 600.0 730.0 620.0C756.7 640.0 775.0 649.5 800.0 660.0C825.0 670.5 846.7 678.3 880.0 683.0C913.3 687.7 955.0 686.0 1000.0 688.0C1045.0 690.0 1100.0 690.5 1150.0 695.0C1200.0 699.5 1250.0 705.0 1300.0 715.0C1350.0 725.0 1403.3 741.7 1450.0 755.0C1496.7 768.3 1558.3 788.3 1580.0 795.0" stroke="#4a8fc2" stroke-width="6.5" fill="none"/><rect x="445" y="233" width="24" height="24" fill="#444" stroke="#222" stroke-width="4"/><rect x="350" y="900" width="1710" height="435" fill="#f7f7f7"/><path d="M423 900V1335" stroke="#fff" stroke-width="3"/><text x="423.0" y="1414.0" font-size="53" fill="#555" text-anchor="middle" >0</text><path d="M720 900V1335" stroke="#fff" stroke-width="3"/><text x="720.0" y="1414.0" font-size="53" fill="#555" text-anchor="middle" >50</text><path d="M1015 900V1335" stroke="#fff" stroke-width="3"/><text x="1015.0" y="1414.0" font-size="53" fill="#555" text-anchor="middle" >100</text><path d="M1312 900V1335" stroke="#fff" stroke-width="3"/><text x="1312.0" y="1414.0" font-size="53" fill="#555" text-anchor="middle" >150</text><path d="M1607 900V1335" stroke="#fff" stroke-width="3"/><text x="1607.0" y="1414.0" font-size="53" fill="#555" text-anchor="middle" >200</text><path d="M1903 900V1335" stroke="#fff" stroke-width="3"/><text x="1903.0" y="1414.0" font-size="53" fill="#555" text-anchor="middle" >250</text><path d="M350 975H2060" stroke="#fff" stroke-width="3"/><text x="312.0" y="994.0" font-size="53" fill="#555" text-anchor="end" >300</text><path d="M326 975H340" stroke="#555" stroke-width="4"/><path d="M350 1090H2060" stroke="#fff" stroke-width="3"/><text x="312.0" y="1109.0" font-size="53" fill="#555" text-anchor="end" >200</text><path d="M326 1090H340" stroke="#555" stroke-width="4"/><path d="M350 1203H2060" stroke="#fff" stroke-width="3"/><text x="312.0" y="1222.0" font-size="53" fill="#555" text-anchor="end" >100</text><path d="M326 1203H340" stroke="#555" stroke-width="4"/><path d="M350 1317H2060" stroke="#fff" stroke-width="3"/><text x="312.0" y="1336.0" font-size="53" fill="#555" text-anchor="end" >0</text><path d="M326 1317H340" stroke="#555" stroke-width="4"/><text x="1207.0" y="1490.0" font-size="62" fill="#555" text-anchor="middle" >Timestep</text><text x="100.0" y="1115.0" font-size="62" fill="#555" text-anchor="middle" transform="rotate(-90 100 1115)">Cumulative</text><text x="175.0" y="1115.0" font-size="62" fill="#555" text-anchor="middle" transform="rotate(-90 175 1115)">Cost</text><path d="M423.0 1317.0C472.5 1302.5 621.3 1255.7 720.0 1230.0C818.7 1204.3 916.3 1184.7 1015.0 1163.0C1113.7 1141.3 1213.3 1125.5 1312.0 1100.0C1410.7 1074.5 1494.0 1040.3 1607.0 1010.0C1720.0 979.7 1926.2 933.3 1990.0 918.0" stroke="#b8b8b8" stroke-width="6" fill="none" stroke-linecap="round"/><path d="M423.0 1317.0C472.5 1303.8 621.3 1261.2 720.0 1238.0C818.7 1214.8 926.7 1193.5 1015.0 1178.0C1103.3 1162.5 1200.5 1153.0 1250.0 1145.0C1299.5 1137.0 1252.5 1147.5 1312.0 1130.0C1371.5 1112.5 1525.7 1063.3 1607.0 1040.0C1688.3 1016.7 1742.0 1003.0 1800.0 990.0C1858.0 977.0 1929.2 966.7 1955.0 962.0" stroke="#d4624f" stroke-width="6" fill="none" stroke-linecap="round"/><path d="M423.0 1317.0C472.5 1306.7 621.3 1272.8 720.0 1255.0C818.7 1237.2 916.3 1224.7 1015.0 1210.0C1113.7 1195.3 1213.3 1182.0 1312.0 1167.0C1410.7 1152.0 1542.3 1129.8 1607.0 1120.0C1671.7 1110.2 1672.8 1111.0 1700.0 1108.0C1727.2 1105.0 1758.3 1103.0 1770.0 1102.0" stroke="#4a8fc2" stroke-width="6" fill="none" stroke-linecap="round"/><text x="1425.0" y="965.0" font-size="60" fill="#bdbdbd" text-anchor="start" >CPPO_<tspan font-style="italic" font-family="'DejaVu Serif',serif">X</tspan><tspan font-size="70%" dy="0.25em">H</tspan></text><text x="1835.0" y="1048.0" font-size="62" fill="#d4624f" text-anchor="start" >RESPO</text><text x="1650.0" y="1172.0" font-size="62" fill="#4a8fc2" text-anchor="start" >RC-PPO</text></svg>
<div class="t" style="left:3196.4px;top:1137.5px;font-family:'Liberation Serif',serif;font-size:26.5px;transform-origin:0 24.0px;transform:scale(0.9404,1.0000);">(a) <span style="font-family:'Liberation Mono',monospace;font-size:0.95em;-webkit-text-stroke:0.5px #000">Pendulum</span></div>
<div class="t" style="left:3822.4px;top:1137.5px;font-family:'Liberation Serif',serif;font-size:26.5px;transform-origin:0 24.0px;transform:scale(0.9365,1.0000);">(b) <span style="font-family:'Liberation Mono',monospace;font-size:0.95em;-webkit-text-stroke:0.5px #000">WindField</span></div>
<p class="t" style="left:3010.9px;top:1186.4px;font-family:'Liberation Serif',serif;font-size:29.5px;color:#111;transform-origin:0 27.0px;transform:scale(0.9832,1.0000);">Figure 5: <b>Trajectory comparisons.</b> On <span style="font-family:'Liberation Mono',monospace;font-size:0.92em">Pendulum</span>, RC-PPO learns to perform an extensive energy</p>
<p class="t" style="left:3011.2px;top:1218.4px;font-family:'Liberation Serif',serif;font-size:29.5px;color:#111;transform-origin:0 27.0px;transform:scale(0.9719,1.0000);">pumping strategy to reach the goal upright position (<span style="color:#7f9a4a">green line</span>), resulting in vastly lower cumulative</p>
<p class="t" style="left:3010.6px;top:1249.9px;font-family:'Liberation Serif',serif;font-size:29.5px;color:#111;transform-origin:0 27.0px;transform:scale(0.9622,1.0000);">energy. On <span style="font-family:'Liberation Mono',monospace;font-size:0.92em">WindField</span>, RC-PPO takes advantage instead of fighting against the wind field, resulting</p>
<p class="t" style="left:3011.1px;top:1281.5px;font-family:'Liberation Serif',serif;font-size:29.5px;color:#111;transform-origin:0 27.0px;transform:scale(0.9639,1.0000);">in a faster trajectory to the goal region (<span style="color:#7f9a4a">green box</span>) that uses lower cumulative energy. The start of the</p>
<div class="a" style="left:3000px;top:1310px;width:600px;height:32px;overflow:hidden">
<p class="t" style="left:11.4px;top:2.8px;font-family:'Liberation Serif',serif;font-size:29.5px;font-family:'Liberation Serif','DejaVu Sans',serif;color:#111;transform-origin:0 27.0px;transform:scale(0.9856,1.0000);">trajectory is marked by <span style="font-size:1.3em;line-height:0">■</span>.</p>
</div>
<h3 class="t" style="left:2940.1px;top:1381.7px;font-family:'Liberation Sans',sans-serif;font-size:54px;font-weight:700;font-style:italic;color:#002060;transform-origin:0 51.0px;transform:scale(0.9184,1.0000);">Results</h3>
<svg style="left:2920px;top:1490px;font-family:'DejaVu Sans',sans-serif;filter:blur(0.5px)" width="1340" height="340" viewBox="0 0 4634.8 1176.0" id="fig4"><rect x="293.0" y="97" width="840.0" height="340" fill="#f8f8f8"/><path d="M293.0 127H1133.0" stroke="#fff" stroke-width="2.5"/><path d="M293.0 174H1133.0" stroke="#fff" stroke-width="2.5"/><path d="M293.0 221H1133.0" stroke="#fff" stroke-width="2.5"/><path d="M293.0 268H1133.0" stroke="#fff" stroke-width="2.5"/><path d="M293.0 315H1133.0" stroke="#fff" stroke-width="2.5"/><path d="M293.0 361H1133.0" stroke="#fff" stroke-width="2.5"/><path d="M293.0 408H1133.0" stroke="#fff" stroke-width="2.5"/><path d="M414.0 97V437" stroke="#fff" stroke-width="2.5"/><text x="414.0" y="492.0" font-size="42" fill="#555" text-anchor="middle" >80</text><path d="M627.0 97V437" stroke="#fff" stroke-width="2.5"/><text x="627.0" y="492.0" font-size="42" fill="#555" text-anchor="middle" >160</text><path d="M840.0 97V437" stroke="#fff" stroke-width="2.5"/><text x="840.0" y="492.0" font-size="42" fill="#555" text-anchor="middle" >240</text><path d="M1053.0 97V437" stroke="#fff" stroke-width="2.5"/><text x="1053.0" y="492.0" font-size="42" fill="#555" text-anchor="middle" >320</text><text x="713.0" y="82.0" font-size="42.5" fill="#222" text-anchor="middle" >Additional Cumulative Cost ↓</text><rect x="294.0" y="113.5" width="46" height="27" fill="#5d9fca"/><path d="M316.0 115.5V138.5" stroke="#333" stroke-width="2.6"/><text x="258.0" y="142.0" font-size="40" fill="#3f79a8" text-anchor="end" >RC-PPO</text><rect x="418.0" y="160.5" width="97" height="27" fill="#e8695b"/><path d="M463.0 162.5V185.5" stroke="#333" stroke-width="2.6"/><text x="258.0" y="189.0" font-size="40" fill="#c9574b" text-anchor="end" >RESPO</text><rect x="466.0" y="207.5" width="119" height="27" fill="#a59bcd"/><path d="M524.0 209.5V232.5" stroke="#333" stroke-width="2.6"/><text x="258.0" y="236.0" font-size="40" fill="#6f65a5" text-anchor="end" >PPO_<tspan font-style="italic">β</tspan><tspan font-size="70%" dy="0.25em">L</tspan></text><rect x="626.0" y="254.5" width="191" height="27" fill="#86a65d"/><path d="M717.0 256.5V279.5" stroke="#333" stroke-width="2.6"/><text x="258.0" y="283.0" font-size="40" fill="#5f7b35" text-anchor="end" >SAC_<tspan font-style="italic">β</tspan><tspan font-size="70%" dy="0.25em">L</tspan></text><rect x="684.0" y="301.5" width="193" height="27" fill="#b9b9b9"/><path d="M775.0 303.5V326.5" stroke="#333" stroke-width="2.6"/><text x="258.0" y="330.0" font-size="40" fill="#8a8a8a" text-anchor="end" >CPPO_<tspan font-style="italic" font-family="'DejaVu Serif',serif">X</tspan><tspan font-size="70%" dy="0.25em">M</tspan></text><rect x="887.0" y="347.5" width="203" height="27" fill="#d0d0d0"/><path d="M984.0 349.5V372.5" stroke="#333" stroke-width="2.6"/><text x="258.0" y="376.0" font-size="40" fill="#aaaaaa" text-anchor="end" >CPPO_<tspan font-style="italic" font-family="'DejaVu Serif',serif">X</tspan><tspan font-size="70%" dy="0.25em">H</tspan></text><rect x="886.0" y="394.5" width="206" height="27" fill="#f8c670"/><path d="M984.0 396.5V419.5" stroke="#333" stroke-width="2.6"/><text x="258.0" y="423.0" font-size="40" fill="#e0b266" text-anchor="end" >CRL</text><rect x="293.0" y="605" width="840.0" height="485" fill="#f8f8f8"/><path d="M293.0 605V1090" stroke="#fff" stroke-width="2.5"/><text x="293.0" y="1145.0" font-size="42" fill="#555" text-anchor="middle" >0.0</text><path d="M453.0 605V1090" stroke="#fff" stroke-width="2.5"/><text x="453.0" y="1145.0" font-size="42" fill="#555" text-anchor="middle" >0.2</text><path d="M613.0 605V1090" stroke="#fff" stroke-width="2.5"/><text x="613.0" y="1145.0" font-size="42" fill="#555" text-anchor="middle" >0.4</text><path d="M773.0 605V1090" stroke="#fff" stroke-width="2.5"/><text x="773.0" y="1145.0" font-size="42" fill="#555" text-anchor="middle" >0.6</text><path d="M933.0 605V1090" stroke="#fff" stroke-width="2.5"/><text x="933.0" y="1145.0" font-size="42" fill="#555" text-anchor="middle" >0.8</text><path d="M1093.0 605V1090" stroke="#fff" stroke-width="2.5"/><text x="1093.0" y="1145.0" font-size="42" fill="#555" text-anchor="middle" >1.0</text><text x="713.0" y="588.0" font-size="42.5" fill="#222" text-anchor="middle" >Reach Rate ↑</text><rect x="293.0" y="611.0" width="798.0" height="38" fill="#5a90b4"/><path d="M1088.0 630.0H1095.0" stroke="#333" stroke-width="3.4"/><text x="258.0" y="645.0" font-size="40" fill="#3f79a8" text-anchor="end" >RC-PPO</text><rect x="293.0" y="659.5" width="800.0" height="38" fill="#cf675a"/><path d="M1090.0 678.5H1096.0" stroke="#333" stroke-width="3.4"/><text x="258.0" y="693.5" font-size="40" fill="#c9574b" text-anchor="end" >RESPO</text><rect x="293.0" y="707.9" width="800.0" height="38" fill="#968eba"/><path d="M1090.0 726.9H1096.0" stroke="#333" stroke-width="3.4"/><text x="258.0" y="741.9" font-size="40" fill="#6f65a5" text-anchor="end" >PPO_<tspan font-style="italic">β</tspan><tspan font-size="70%" dy="0.25em">L</tspan></text><rect x="293.0" y="756.4" width="245.0" height="38" fill="#b8afe6"/><path d="M531.0 775.4H545.0" stroke="#333" stroke-width="3.4"/><text x="258.0" y="790.4" font-size="40" fill="#a89ce0" text-anchor="end" >PPO_<tspan font-style="italic">β</tspan><tspan font-size="70%" dy="0.25em">H</tspan></text><rect x="293.0" y="804.8" width="800.0" height="38" fill="#70874b"/><path d="M1090.0 823.8H1096.0" stroke="#333" stroke-width="3.4"/><text x="258.0" y="838.8" font-size="40" fill="#5f7b35" text-anchor="end" >SAC_<tspan font-style="italic">β</tspan><tspan font-size="70%" dy="0.25em">L</tspan></text><rect x="293.0" y="853.2" width="168.0" height="38" fill="#92b264"/><path d="M457.0 872.2H465.0" stroke="#333" stroke-width="3.4"/><text x="258.0" y="887.2" font-size="40" fill="#86ab4e" text-anchor="end" >SAC_<tspan font-style="italic">β</tspan><tspan font-size="70%" dy="0.25em">H</tspan></text><rect x="293.0" y="901.7" width="534.0" height="38" fill="#787878"/><path d="M822.0 920.7H832.0" stroke="#333" stroke-width="3.4"/><text x="258.0" y="935.7" font-size="40" fill="#222" text-anchor="end" >CPPO_<tspan font-style="italic" font-family="'DejaVu Serif',serif">X</tspan><tspan font-size="70%" dy="0.25em">L</tspan></text><rect x="293.0" y="950.2" width="800.0" height="38" fill="#ababab"/><path d="M1090.0 969.2H1096.0" stroke="#333" stroke-width="3.4"/><text x="258.0" y="984.2" font-size="40" fill="#8a8a8a" text-anchor="end" >CPPO_<tspan font-style="italic" font-family="'DejaVu Serif',serif">X</tspan><tspan font-size="70%" dy="0.25em">M</tspan></text><rect x="293.0" y="998.6" width="800.0" height="38" fill="#c5c5c5"/><path d="M1088.0 1017.6H1097.0" stroke="#333" stroke-width="3.4"/><text x="258.0" y="1032.6" font-size="40" fill="#aaaaaa" text-anchor="end" >CPPO_<tspan font-style="italic" font-family="'DejaVu Serif',serif">X</tspan><tspan font-size="70%" dy="0.25em">H</tspan></text><rect x="293.0" y="1047.0" width="796.0" height="38" fill="#e9c17e"/><path d="M1086.0 1066.0H1092.0" stroke="#333" stroke-width="3.4"/><text x="258.0" y="1081.0" font-size="40" fill="#e0b266" text-anchor="end" >CRL</text><rect x="1418.0" y="97" width="842.0" height="340" fill="#f8f8f8"/><path d="M1418.0 130H2260.0" stroke="#fff" stroke-width="2.5"/><path d="M1418.0 184H2260.0" stroke="#fff" stroke-width="2.5"/><path d="M1418.0 240H2260.0" stroke="#fff" stroke-width="2.5"/><path d="M1418.0 295H2260.0" stroke="#fff" stroke-width="2.5"/><path d="M1418.0 350H2260.0" stroke="#fff" stroke-width="2.5"/><path d="M1418.0 405H2260.0" stroke="#fff" stroke-width="2.5"/><path d="M1558.0 97V437" stroke="#fff" stroke-width="2.5"/><text x="1558.0" y="492.0" font-size="42" fill="#555" text-anchor="middle" >150</text><path d="M1798.0 97V437" stroke="#fff" stroke-width="2.5"/><text x="1798.0" y="492.0" font-size="42" fill="#555" text-anchor="middle" >200</text><path d="M2038.0 97V437" stroke="#fff" stroke-width="2.5"/><text x="2038.0" y="492.0" font-size="42" fill="#555" text-anchor="middle" >250</text><text x="1839.0" y="82.0" font-size="42.5" fill="#222" text-anchor="middle" >Additional Cumulative Cost ↓</text><rect x="1420.0" y="114.0" width="120" height="32" fill="#5d9fca"/><path d="M1483.0 116.0V144.0" stroke="#333" stroke-width="2.6"/><text x="1385.0" y="145.0" font-size="40" fill="#3f79a8" text-anchor="end" >RC-PPO</text><rect x="1481.0" y="168.0" width="155" height="32" fill="#e8695b"/><path d="M1561.0 170.0V198.0" stroke="#333" stroke-width="2.6"/><text x="1385.0" y="199.0" font-size="40" fill="#c9574b" text-anchor="end" >RESPO</text><rect x="1941.0" y="224.0" width="280" height="32" fill="#a59bcd"/><path d="M2084.0 226.0V254.0" stroke="#333" stroke-width="2.6"/><text x="1385.0" y="255.0" font-size="40" fill="#6f65a5" text-anchor="end" >PPO_<tspan font-style="italic">β</tspan><tspan font-size="70%" dy="0.25em">L</tspan></text><rect x="1767.0" y="279.0" width="237" height="32" fill="#86a65d"/><path d="M1890.0 281.0V309.0" stroke="#333" stroke-width="2.6"/><text x="1385.0" y="310.0" font-size="40" fill="#5f7b35" text-anchor="end" >SAC_<tspan font-style="italic">β</tspan><tspan font-size="70%" dy="0.25em">L</tspan></text><rect x="1664.0" y="334.0" width="206" height="32" fill="#b9b9b9"/><path d="M1771.0 336.0V364.0" stroke="#333" stroke-width="2.6"/><text x="1385.0" y="365.0" font-size="40" fill="#8a8a8a" text-anchor="end" >CPPO_<tspan font-style="italic" font-family="'DejaVu Serif',serif">X</tspan><tspan font-size="70%" dy="0.25em">M</tspan></text><rect x="1852.0" y="389.0" width="243" height="32" fill="#d0d0d0"/><path d="M1975.0 391.0V419.0" stroke="#333" stroke-width="2.6"/><text x="1385.0" y="420.0" font-size="40" fill="#aaaaaa" text-anchor="end" >CPPO_<tspan font-style="italic" font-family="'DejaVu Serif',serif">X</tspan><tspan font-size="70%" dy="0.25em">H</tspan></text><rect x="1418.0" y="605" width="842.0" height="485" fill="#f8f8f8"/><path d="M1418.0 605V1090" stroke="#fff" stroke-width="2.5"/><text x="1418.0" y="1145.0" font-size="42" fill="#555" text-anchor="middle" >0.0</text><path d="M1590.0 605V1090" stroke="#fff" stroke-width="2.5"/><text x="1590.0" y="1145.0" font-size="42" fill="#555" text-anchor="middle" >0.2</text><path d="M1762.0 605V1090" stroke="#fff" stroke-width="2.5"/><text x="1762.0" y="1145.0" font-size="42" fill="#555" text-anchor="middle" >0.4</text><path d="M1935.0 605V1090" stroke="#fff" stroke-width="2.5"/><text x="1935.0" y="1145.0" font-size="42" fill="#555" text-anchor="middle" >0.6</text><path d="M2107.0 605V1090" stroke="#fff" stroke-width="2.5"/><text x="2107.0" y="1145.0" font-size="42" fill="#555" text-anchor="middle" >0.8</text><text x="1839.0" y="588.0" font-size="42.5" fill="#222" text-anchor="middle" >Reach Rate ↑</text><rect x="1418.0" y="611.0" width="745.0" height="38" fill="#5a90b4"/><path d="M2153.0 630.0H2172.0" stroke="#333" stroke-width="3.4"/><text x="1385.0" y="645.0" font-size="40" fill="#3f79a8" text-anchor="end" >RC-PPO</text><rect x="1418.0" y="659.5" width="764.0" height="38" fill="#cf675a"/><path d="M2172.0 678.5H2192.0" stroke="#333" stroke-width="3.4"/><text x="1385.0" y="693.5" font-size="40" fill="#c9574b" text-anchor="end" >RESPO</text><rect x="1418.0" y="707.9" width="677.0" height="38" fill="#968eba"/><path d="M2085.0 726.9H2108.0" stroke="#333" stroke-width="3.4"/><text x="1385.0" y="741.9" font-size="40" fill="#6f65a5" text-anchor="end" >PPO_<tspan font-style="italic">β</tspan><tspan font-size="70%" dy="0.25em">L</tspan></text><rect x="1418.0" y="756.4" width="522.0" height="38" fill="#b8afe6"/><path d="M1932.0 775.4H1947.0" stroke="#333" stroke-width="3.4"/><text x="1385.0" y="790.4" font-size="40" fill="#a89ce0" text-anchor="end" >PPO_<tspan font-style="italic">β</tspan><tspan font-size="70%" dy="0.25em">H</tspan></text><rect x="1418.0" y="804.8" width="612.0" height="38" fill="#70874b"/><path d="M2015.0 823.8H2046.0" stroke="#333" stroke-width="3.4"/><text x="1385.0" y="838.8" font-size="40" fill="#5f7b35" text-anchor="end" >SAC_<tspan font-style="italic">β</tspan><tspan font-size="70%" dy="0.25em">L</tspan></text><rect x="1418.0" y="853.2" width="402.0" height="38" fill="#92b264"/><path d="M1793.0 872.2H1840.0" stroke="#333" stroke-width="3.4"/><text x="1385.0" y="887.2" font-size="40" fill="#86ab4e" text-anchor="end" >SAC_<tspan font-style="italic">β</tspan><tspan font-size="70%" dy="0.25em">H</tspan></text><rect x="1418.0" y="901.7" width="514.0" height="38" fill="#787878"/><path d="M1922.0 920.7H1940.0" stroke="#333" stroke-width="3.4"/><text x="1385.0" y="935.7" font-size="40" fill="#222" text-anchor="end" >CPPO_<tspan font-style="italic" font-family="'DejaVu Serif',serif">X</tspan><tspan font-size="70%" dy="0.25em">L</tspan></text><rect x="1418.0" y="950.2" width="692.0" height="38" fill="#ababab"/><path d="M2100.0 969.2H2120.0" stroke="#333" stroke-width="3.4"/><text x="1385.0" y="984.2" font-size="40" fill="#8a8a8a" text-anchor="end" >CPPO_<tspan font-style="italic" font-family="'DejaVu Serif',serif">X</tspan><tspan font-size="70%" dy="0.25em">M</tspan></text><rect x="1418.0" y="998.6" width="799.0" height="38" fill="#c5c5c5"/><path d="M2210.0 1017.6H2224.0" stroke="#333" stroke-width="3.4"/><text x="1385.0" y="1032.6" font-size="40" fill="#aaaaaa" text-anchor="end" >CPPO_<tspan font-style="italic" font-family="'DejaVu Serif',serif">X</tspan><tspan font-size="70%" dy="0.25em">H</tspan></text><rect x="1418.0" y="1047.0" width="496.0" height="38" fill="#e9c17e"/><path d="M1900.0 1066.0H1930.0" stroke="#333" stroke-width="3.4"/><text x="1385.0" y="1081.0" font-size="40" fill="#e0b266" text-anchor="end" >CRL</text><rect x="2545.8" y="97" width="840.0" height="340" fill="#f8f8f8"/><path d="M2545.8 139H3385.8" stroke="#fff" stroke-width="2.5"/><path d="M2545.8 224H3385.8" stroke="#fff" stroke-width="2.5"/><path d="M2545.8 310H3385.8" stroke="#fff" stroke-width="2.5"/><path d="M2545.8 396H3385.8" stroke="#fff" stroke-width="2.5"/><path d="M2582.8 97V437" stroke="#fff" stroke-width="2.5"/><text x="2582.8" y="492.0" font-size="42" fill="#555" text-anchor="middle" >50</text><path d="M2795.8 97V437" stroke="#fff" stroke-width="2.5"/><text x="2795.8" y="492.0" font-size="42" fill="#555" text-anchor="middle" >75</text><path d="M3007.8 97V437" stroke="#fff" stroke-width="2.5"/><text x="3007.8" y="492.0" font-size="42" fill="#555" text-anchor="middle" >100</text><path d="M3219.8 97V437" stroke="#fff" stroke-width="2.5"/><text x="3219.8" y="492.0" font-size="42" fill="#555" text-anchor="middle" >125</text><text x="2965.8" y="82.0" font-size="42.5" fill="#222" text-anchor="middle" >Additional Cumulative Cost ↓</text><rect x="2545.8" y="114.0" width="137" height="50" fill="#5d9fca"/><path d="M2616.8 116.0V162.0" stroke="#333" stroke-width="2.6"/><text x="2510.8" y="154.0" font-size="40" fill="#3f79a8" text-anchor="end" >RC-PPO</text><rect x="2702.8" y="199.0" width="195" height="50" fill="#e8695b"/><path d="M2801.8 201.0V247.0" stroke="#333" stroke-width="2.6"/><text x="2510.8" y="239.0" font-size="40" fill="#c9574b" text-anchor="end" >RESPO</text><rect x="3040.8" y="285.0" width="305" height="50" fill="#a59bcd"/><path d="M3193.8 287.0V333.0" stroke="#333" stroke-width="2.6"/><text x="2510.8" y="325.0" font-size="40" fill="#6f65a5" text-anchor="end" >PPO_<tspan font-style="italic">β</tspan><tspan font-size="70%" dy="0.25em">L</tspan></text><rect x="2926.8" y="371.0" width="278" height="50" fill="#d0d0d0"/><path d="M3064.8 373.0V419.0" stroke="#333" stroke-width="2.6"/><text x="2510.8" y="411.0" font-size="40" fill="#aaaaaa" text-anchor="end" >CPPO_<tspan font-style="italic" font-family="'DejaVu Serif',serif">X</tspan><tspan font-size="70%" dy="0.25em">H</tspan></text><rect x="2545.8" y="605" width="840.0" height="485" fill="#f8f8f8"/><path d="M2545.8 605V1090" stroke="#fff" stroke-width="2.5"/><text x="2545.8" y="1145.0" font-size="42" fill="#555" text-anchor="middle" >0.0</text><path d="M2758.8 605V1090" stroke="#fff" stroke-width="2.5"/><text x="2758.8" y="1145.0" font-size="42" fill="#555" text-anchor="middle" >0.2</text><path d="M2970.8 605V1090" stroke="#fff" stroke-width="2.5"/><text x="2970.8" y="1145.0" font-size="42" fill="#555" text-anchor="middle" >0.4</text><path d="M3182.8 605V1090" stroke="#fff" stroke-width="2.5"/><text x="3182.8" y="1145.0" font-size="42" fill="#555" text-anchor="middle" >0.6</text><text x="2965.8" y="588.0" font-size="42.5" fill="#222" text-anchor="middle" >Reach Rate ↑</text><rect x="2545.8" y="611.0" width="755.0" height="38" fill="#5a90b4"/><path d="M3260.8 630.0H3348.8" stroke="#333" stroke-width="3.4"/><text x="2510.8" y="645.0" font-size="40" fill="#3f79a8" text-anchor="end" >RC-PPO</text><rect x="2545.8" y="659.5" width="657.0" height="38" fill="#cf675a"/><path d="M3190.8 678.5H3214.8" stroke="#333" stroke-width="3.4"/><text x="2510.8" y="693.5" font-size="40" fill="#c9574b" text-anchor="end" >RESPO</text><rect x="2545.8" y="707.9" width="657.0" height="38" fill="#968eba"/><path d="M3195.8 726.9H3209.8" stroke="#333" stroke-width="3.4"/><text x="2510.8" y="741.9" font-size="40" fill="#6f65a5" text-anchor="end" >PPO_<tspan font-style="italic">β</tspan><tspan font-size="70%" dy="0.25em">L</tspan></text><rect x="2545.8" y="756.4" width="459.0" height="38" fill="#b8afe6"/><path d="M2988.8 775.4H3019.8" stroke="#333" stroke-width="3.4"/><text x="2510.8" y="790.4" font-size="40" fill="#a89ce0" text-anchor="end" >PPO_<tspan font-style="italic">β</tspan><tspan font-size="70%" dy="0.25em">H</tspan></text><rect x="2545.8" y="804.8" width="480.0" height="38" fill="#70874b"/><path d="M3005.8 823.8H3048.8" stroke="#333" stroke-width="3.4"/><text x="2510.8" y="838.8" font-size="40" fill="#5f7b35" text-anchor="end" >SAC_<tspan font-style="italic">β</tspan><tspan font-size="70%" dy="0.25em">L</tspan></text><rect x="2545.8" y="853.2" width="299.0" height="38" fill="#92b264"/><path d="M2829.8 872.2H2859.8" stroke="#333" stroke-width="3.4"/><text x="2510.8" y="887.2" font-size="40" fill="#86ab4e" text-anchor="end" >SAC_<tspan font-style="italic">β</tspan><tspan font-size="70%" dy="0.25em">H</tspan></text><rect x="2545.8" y="901.7" width="387.0" height="38" fill="#787878"/><path d="M2925.8 920.7H2939.8" stroke="#333" stroke-width="3.4"/><text x="2510.8" y="935.7" font-size="40" fill="#222" text-anchor="end" >CPPO_<tspan font-style="italic" font-family="'DejaVu Serif',serif">X</tspan><tspan font-size="70%" dy="0.25em">L</tspan></text><rect x="2545.8" y="950.2" width="403.0" height="38" fill="#ababab"/><path d="M2934.8 969.2H2964.8" stroke="#333" stroke-width="3.4"/><text x="2510.8" y="984.2" font-size="40" fill="#8a8a8a" text-anchor="end" >CPPO_<tspan font-style="italic" font-family="'DejaVu Serif',serif">X</tspan><tspan font-size="70%" dy="0.25em">M</tspan></text><rect x="2545.8" y="998.6" width="656.0" height="38" fill="#c5c5c5"/><path d="M3189.8 1017.6H3216.8" stroke="#333" stroke-width="3.4"/><text x="2510.8" y="1032.6" font-size="40" fill="#aaaaaa" text-anchor="end" >CPPO_<tspan font-style="italic" font-family="'DejaVu Serif',serif">X</tspan><tspan font-size="70%" dy="0.25em">H</tspan></text><rect x="2545.8" y="1047.0" width="386.0" height="38" fill="#e9c17e"/><path d="M2917.8 1066.0H2946.8" stroke="#333" stroke-width="3.4"/><text x="2510.8" y="1081.0" font-size="40" fill="#e0b266" text-anchor="end" >CRL</text><rect x="3672.8" y="97" width="825.0" height="340" fill="#f8f8f8"/><path d="M3672.8 130H4497.8" stroke="#fff" stroke-width="2.5"/><path d="M3672.8 184H4497.8" stroke="#fff" stroke-width="2.5"/><path d="M3672.8 240H4497.8" stroke="#fff" stroke-width="2.5"/><path d="M3672.8 295H4497.8" stroke="#fff" stroke-width="2.5"/><path d="M3672.8 350H4497.8" stroke="#fff" stroke-width="2.5"/><path d="M3672.8 405H4497.8" stroke="#fff" stroke-width="2.5"/><path d="M3847.8 97V437" stroke="#fff" stroke-width="2.5"/><text x="3847.8" y="492.0" font-size="42" fill="#555" text-anchor="middle" >180</text><path d="M4055.8 97V437" stroke="#fff" stroke-width="2.5"/><text x="4055.8" y="492.0" font-size="42" fill="#555" text-anchor="middle" >240</text><path d="M4263.8 97V437" stroke="#fff" stroke-width="2.5"/><text x="4263.8" y="492.0" font-size="42" fill="#555" text-anchor="middle" >300</text><path d="M4472.8 97V437" stroke="#fff" stroke-width="2.5"/><text x="4472.8" y="492.0" font-size="42" fill="#555" text-anchor="middle" >360</text><text x="4085.3" y="82.0" font-size="42.5" fill="#222" text-anchor="middle" >Additional Cumulative Cost ↓</text><rect x="3672.8" y="114.0" width="82" height="32" fill="#5d9fca"/><path d="M3713.8 116.0V144.0" stroke="#333" stroke-width="2.6"/><text x="3637.8" y="145.0" font-size="40" fill="#3f79a8" text-anchor="end" >RC-PPO</text><rect x="3838.8" y="168.0" width="111" height="32" fill="#e8695b"/><path d="M3894.8 170.0V198.0" stroke="#333" stroke-width="2.6"/><text x="3637.8" y="199.0" font-size="40" fill="#c9574b" text-anchor="end" >RESPO</text><rect x="4145.8" y="224.0" width="166" height="32" fill="#a59bcd"/><path d="M4230.8 226.0V254.0" stroke="#333" stroke-width="2.6"/><text x="3637.8" y="255.0" font-size="40" fill="#6f65a5" text-anchor="end" >PPO_<tspan font-style="italic">β</tspan><tspan font-size="70%" dy="0.25em">L</tspan></text><rect x="4267.8" y="279.0" width="190" height="32" fill="#86a65d"/><path d="M4364.8 281.0V309.0" stroke="#333" stroke-width="2.6"/><text x="3637.8" y="310.0" font-size="40" fill="#5f7b35" text-anchor="end" >SAC_<tspan font-style="italic">β</tspan><tspan font-size="70%" dy="0.25em">L</tspan></text><rect x="3918.8" y="334.0" width="118" height="32" fill="#b9b9b9"/><path d="M3980.8 336.0V364.0" stroke="#333" stroke-width="2.6"/><text x="3637.8" y="365.0" font-size="40" fill="#8a8a8a" text-anchor="end" >CPPO_<tspan font-style="italic" font-family="'DejaVu Serif',serif">X</tspan><tspan font-size="70%" dy="0.25em">M</tspan></text><rect x="3992.8" y="389.0" width="137" height="32" fill="#d0d0d0"/><path d="M4061.8 391.0V419.0" stroke="#333" stroke-width="2.6"/><text x="3637.8" y="420.0" font-size="40" fill="#aaaaaa" text-anchor="end" >CPPO_<tspan font-style="italic" font-family="'DejaVu Serif',serif">X</tspan><tspan font-size="70%" dy="0.25em">H</tspan></text><rect x="3672.8" y="605" width="825.0" height="485" fill="#f8f8f8"/><path d="M3672.8 605V1090" stroke="#fff" stroke-width="2.5"/><text x="3672.8" y="1145.0" font-size="42" fill="#555" text-anchor="middle" >0.0</text><path d="M3830.8 605V1090" stroke="#fff" stroke-width="2.5"/><text x="3830.8" y="1145.0" font-size="42" fill="#555" text-anchor="middle" >0.2</text><path d="M3987.8 605V1090" stroke="#fff" stroke-width="2.5"/><text x="3987.8" y="1145.0" font-size="42" fill="#555" text-anchor="middle" >0.4</text><path d="M4144.8 605V1090" stroke="#fff" stroke-width="2.5"/><text x="4144.8" y="1145.0" font-size="42" fill="#555" text-anchor="middle" >0.6</text><path d="M4302.8 605V1090" stroke="#fff" stroke-width="2.5"/><text x="4302.8" y="1145.0" font-size="42" fill="#555" text-anchor="middle" >0.8</text><path d="M4460.8 605V1090" stroke="#fff" stroke-width="2.5"/><text x="4460.8" y="1145.0" font-size="42" fill="#555" text-anchor="middle" >1.0</text><text x="4085.3" y="588.0" font-size="42.5" fill="#222" text-anchor="middle" >Reach Rate ↑</text><rect x="3672.8" y="611.0" width="707.0" height="38" fill="#5a90b4"/><path d="M4364.8 630.0H4399.8" stroke="#333" stroke-width="3.4"/><text x="3637.8" y="645.0" font-size="40" fill="#3f79a8" text-anchor="end" >RC-PPO</text><rect x="3672.8" y="659.5" width="776.0" height="38" fill="#cf675a"/><path d="M4442.8 678.5H4455.8" stroke="#333" stroke-width="3.4"/><text x="3637.8" y="693.5" font-size="40" fill="#c9574b" text-anchor="end" >RESPO</text><rect x="3672.8" y="707.9" width="781.0" height="38" fill="#968eba"/><path d="M4448.8 726.9H4459.8" stroke="#333" stroke-width="3.4"/><text x="3637.8" y="741.9" font-size="40" fill="#6f65a5" text-anchor="end" >PPO_<tspan font-style="italic">β</tspan><tspan font-size="70%" dy="0.25em">L</tspan></text><rect x="3672.8" y="756.4" width="397.0" height="38" fill="#b8afe6"/><path d="M4062.8 775.4H4076.8" stroke="#333" stroke-width="3.4"/><text x="3637.8" y="790.4" font-size="40" fill="#a89ce0" text-anchor="end" >PPO_<tspan font-style="italic">β</tspan><tspan font-size="70%" dy="0.25em">H</tspan></text><rect x="3672.8" y="804.8" width="742.0" height="38" fill="#70874b"/><path d="M4409.8 823.8H4419.8" stroke="#333" stroke-width="3.4"/><text x="3637.8" y="838.8" font-size="40" fill="#5f7b35" text-anchor="end" >SAC_<tspan font-style="italic">β</tspan><tspan font-size="70%" dy="0.25em">L</tspan></text><rect x="3672.8" y="853.2" width="354.0" height="38" fill="#92b264"/><path d="M4017.8 872.2H4036.8" stroke="#333" stroke-width="3.4"/><text x="3637.8" y="887.2" font-size="40" fill="#86ab4e" text-anchor="end" >SAC_<tspan font-style="italic">β</tspan><tspan font-size="70%" dy="0.25em">H</tspan></text><rect x="3672.8" y="901.7" width="328.0" height="38" fill="#787878"/><path d="M3990.8 920.7H4010.8" stroke="#333" stroke-width="3.4"/><text x="3637.8" y="935.7" font-size="40" fill="#222" text-anchor="end" >CPPO_<tspan font-style="italic" font-family="'DejaVu Serif',serif">X</tspan><tspan font-size="70%" dy="0.25em">L</tspan></text><rect x="3672.8" y="950.2" width="725.0" height="38" fill="#ababab"/><path d="M4390.8 969.2H4405.8" stroke="#333" stroke-width="3.4"/><text x="3637.8" y="984.2" font-size="40" fill="#8a8a8a" text-anchor="end" >CPPO_<tspan font-style="italic" font-family="'DejaVu Serif',serif">X</tspan><tspan font-size="70%" dy="0.25em">M</tspan></text><rect x="3672.8" y="998.6" width="782.0" height="38" fill="#c5c5c5"/><path d="M4447.8 1017.6H4461.8" stroke="#333" stroke-width="3.4"/><text x="3637.8" y="1032.6" font-size="40" fill="#aaaaaa" text-anchor="end" >CPPO_<tspan font-style="italic" font-family="'DejaVu Serif',serif">X</tspan><tspan font-size="70%" dy="0.25em">H</tspan></text><rect x="3672.8" y="1047.0" width="178.0" height="38" fill="#e9c17e"/><path d="M3842.8 1066.0H3859.8" stroke="#333" stroke-width="3.4"/><text x="3637.8" y="1081.0" font-size="40" fill="#e0b266" text-anchor="end" >CRL</text></svg>
<div class="t" style="left:3032.5px;top:1849.2px;font-family:'Liberation Mono',monospace;font-size:25.5px;font-weight:700;color:#000;transform-origin:0 21.0px;transform:scale(1.0309,1.0000);">Pendulum</div>
<div class="t" style="left:3350.5px;top:1849.2px;font-family:'Liberation Mono',monospace;font-size:25.5px;font-weight:700;color:#000;transform-origin:0 21.0px;transform:scale(1.0132,1.0000);">PointGoal</div>
<div class="t" style="left:3608.4px;top:1849.2px;font-family:'Liberation Mono',monospace;font-size:25.5px;font-weight:700;color:#000;transform-origin:0 21.0px;transform:scale(1.0098,1.0000);">Safety HalfCheetah</div>
<div class="t" style="left:4004.4px;top:1849.2px;font-family:'Liberation Mono',monospace;font-size:25.5px;font-weight:700;color:#000;transform-origin:0 21.0px;transform:scale(1.0082,1.0000);">WindField</div>
<p class="t" style="left:2937.5px;top:1898.3px;font-family:'Liberation Serif',serif;font-size:33.8px;color:#000;transform-origin:0 31.0px;transform:scale(1.0177,1.0000);">Figure 4:&nbsp; <b>Cumulative cost (IQM) and reach rates under reward shaping on four selected</b></p>
<p class="t" style="left:2938.5px;top:1933.4px;font-family:'Liberation Serif',serif;font-size:33.8px;color:#000;transform-origin:0 31.0px;transform:scale(0.9837,1.0000);"><b>benchmarks.</b> RC-PPO achieves significantly lower cumulative costs while retaining comparable</p>
<p class="t" style="left:2937.8px;top:1967.9px;font-family:'Liberation Serif',serif;font-size:33.8px;color:#000;transform-origin:0 31.0px;transform:scale(0.9620,1.0000);">reach rates even when compared with baseline methods that use reward shaping.</p>
<div class="a rule" style="left:2933px;top:2039.3px;width:1305px;height:7px;background:#0b6fc3;"></div>
<h3 class="t" style="left:2944.8px;top:2067.0px;font-family:'Liberation Sans',sans-serif;font-size:55px;font-weight:700;font-style:italic;color:#002060;transform-origin:0 52.0px;transform:scale(0.9513,1.0000);">Comparison with Different Reward Coefficients</h3>
<svg style="left:3160px;top:2130px;font-family:'DejaVu Sans',sans-serif;filter:blur(0.5px)" width="860" height="470" viewBox="0 0 2352.0 1285.4" id="fig6"><rect x="327" y="62" width="1883" height="238" fill="#f8f8f8"/><rect x="327" y="338" width="1883" height="720" fill="#f8f8f8"/><path d="M327 88H2210" stroke="#fff" stroke-width="3"/><text x="287.0" y="108.0" font-size="57" fill="#555" text-anchor="end" >300</text><path d="M303 88H320" stroke="#555" stroke-width="3.5"/><path d="M327 206H2210" stroke="#fff" stroke-width="3"/><text x="287.0" y="226.0" font-size="57" fill="#555" text-anchor="end" >200</text><path d="M303 206H320" stroke="#555" stroke-width="3.5"/><path d="M327 378H2210" stroke="#fff" stroke-width="3"/><text x="287.0" y="398.0" font-size="57" fill="#555" text-anchor="end" >100</text><path d="M303 378H320" stroke="#555" stroke-width="3.5"/><path d="M327 512H2210" stroke="#fff" stroke-width="3"/><text x="287.0" y="532.0" font-size="57" fill="#555" text-anchor="end" >80</text><path d="M303 512H320" stroke="#555" stroke-width="3.5"/><path d="M327 645H2210" stroke="#fff" stroke-width="3"/><text x="287.0" y="665.0" font-size="57" fill="#555" text-anchor="end" >60</text><path d="M303 645H320" stroke="#555" stroke-width="3.5"/><path d="M327 778H2210" stroke="#fff" stroke-width="3"/><text x="287.0" y="798.0" font-size="57" fill="#555" text-anchor="end" >40</text><path d="M303 778H320" stroke="#555" stroke-width="3.5"/><path d="M327 912H2210" stroke="#fff" stroke-width="3"/><text x="287.0" y="932.0" font-size="57" fill="#555" text-anchor="end" >20</text><path d="M303 912H320" stroke="#555" stroke-width="3.5"/><path d="M327 1045H2210" stroke="#fff" stroke-width="3"/><text x="287.0" y="1065.0" font-size="57" fill="#555" text-anchor="end" >0</text><path d="M303 1045H320" stroke="#555" stroke-width="3.5"/><text x="360.0" y="1145.0" font-size="57" fill="#555" text-anchor="middle" >0.0</text><path d="M360 1064V1080" stroke="#555" stroke-width="3.5"/><text x="716.0" y="1145.0" font-size="57" fill="#555" text-anchor="middle" >0.2</text><path d="M716 1064V1080" stroke="#555" stroke-width="3.5"/><text x="1072.0" y="1145.0" font-size="57" fill="#555" text-anchor="middle" >0.4</text><path d="M1072 1064V1080" stroke="#555" stroke-width="3.5"/><text x="1428.0" y="1145.0" font-size="57" fill="#555" text-anchor="middle" >0.6</text><path d="M1428 1064V1080" stroke="#555" stroke-width="3.5"/><text x="1785.0" y="1145.0" font-size="57" fill="#555" text-anchor="middle" >0.8</text><path d="M1785 1064V1080" stroke="#555" stroke-width="3.5"/><text x="2141.0" y="1145.0" font-size="57" fill="#555" text-anchor="middle" >1.0</text><path d="M2141 1064V1080" stroke="#555" stroke-width="3.5"/><text x="1265.0" y="1225.0" font-size="67" fill="#555" text-anchor="middle" >Reach Rate ↑</text><text x="140.0" y="705.0" font-size="67" fill="#555" text-anchor="middle" transform="rotate(-90 140 705)">Additional Cumulative Cost ↓</text><path d="M290 318L358 285M290 355L358 322M2180 318L2248 285M2180 355L2248 322" stroke="#111" stroke-width="4"/><g fill="#7a7a7a" fill-opacity="0.72"><circle cx="700" cy="1041" r="18.5"/><circle cx="1101" cy="1028" r="18.5"/><circle cx="1170" cy="1038" r="18.5"/><circle cx="1203" cy="1018" r="18.5"/><circle cx="1238" cy="1028" r="18.5"/><circle cx="1285" cy="1005" r="18.5"/><circle cx="1449" cy="999" r="18.5"/><circle cx="1502" cy="1008" r="18.5"/><circle cx="1545" cy="983" r="18.5"/><circle cx="1491" cy="907" r="18.5"/><circle cx="1589" cy="830" r="18.5"/><circle cx="1607" cy="810" r="18.5"/><circle cx="1634" cy="784" r="18.5"/><circle cx="1634" cy="784" r="18.5"/><circle cx="1677" cy="756" r="18.5"/><circle cx="1768" cy="720" r="18.5"/><circle cx="1732" cy="649" r="18.5"/><circle cx="1732" cy="572" r="18.5"/><circle cx="1892" cy="717" r="18.5"/><circle cx="1901" cy="429" r="18.5"/><circle cx="1935" cy="543" r="18.5"/><circle cx="1991" cy="601" r="18.5"/><circle cx="2079" cy="650" r="18.5"/><circle cx="2141" cy="368" r="18.5"/><circle cx="2141" cy="403" r="18.5"/><circle cx="2141" cy="403" r="18.5"/><circle cx="2141" cy="449" r="18.5"/><circle cx="2141" cy="551" r="18.5"/><circle cx="2141" cy="589" r="18.5"/><circle cx="2141" cy="628" r="18.5"/><circle cx="2141" cy="729" r="18.5"/><circle cx="2141" cy="760" r="18.5"/><circle cx="2141" cy="765" r="18.5"/><circle cx="2141" cy="85" r="18.5"/><circle cx="2141" cy="92" r="18.5"/><circle cx="2141" cy="100" r="18.5"/><circle cx="2141" cy="108" r="18.5"/><circle cx="2141" cy="114" r="18.5"/><circle cx="2141" cy="120" r="18.5"/><circle cx="2141" cy="126" r="18.5"/><circle cx="2141" cy="132" r="18.5"/><circle cx="2141" cy="138" r="18.5"/><circle cx="2141" cy="143" r="18.5"/><circle cx="2141" cy="150" r="18.5"/><circle cx="2141" cy="155" r="18.5"/><circle cx="2141" cy="161" r="18.5"/><circle cx="2141" cy="167" r="18.5"/><circle cx="2141" cy="173" r="18.5"/><circle cx="2141" cy="178" r="18.5"/><circle cx="2141" cy="184" r="18.5"/><circle cx="2141" cy="190" r="18.5"/><circle cx="2141" cy="198" r="18.5"/><circle cx="2141" cy="207" r="18.5"/><circle cx="2141" cy="207" r="18.5"/><circle cx="2141" cy="215" r="18.5"/><circle cx="2141" cy="240" r="18.5"/><circle cx="2141" cy="240" r="18.5"/><circle cx="2141" cy="245" r="18.5"/><circle cx="2141" cy="270" r="18.5"/><circle cx="2141" cy="276" r="18.5"/><circle cx="2141" cy="283" r="18.5"/></g><text x="1203.0" y="782.0" font-size="57" fill="#808080" text-anchor="middle" >PPO across different</text><text x="1203.0" y="845.0" font-size="57" fill="#808080" text-anchor="middle" >reward coefficients</text><text x="1885.0" y="1022.0" font-size="57" fill="#3b8dc4" text-anchor="start" >RC-PPO</text><polygon points="2139.0,977.0 2147.8,1001.9 2174.2,1002.6 2153.3,1018.6 2160.7,1043.9 2139.0,1029.0 2117.3,1043.9 2124.7,1018.6 2103.8,1002.6 2130.2,1001.9" fill="#2f86c0"/></svg>
<p class="t" style="left:2956.6px;top:2615.8px;font-family:'Liberation Serif',serif;font-size:32.5px;color:#000;transform-origin:0 30.0px;transform:scale(0.9511,1.0000);">Figure 6: <b>Pareto front of PPO across different reward coefficients.</b> RC-PPO outperforms the <i>entire</i></p>
<p class="t" style="left:2956.6px;top:2651.4px;font-family:'Liberation Serif',serif;font-size:32.5px;color:#000;"><i>Pareto front</i> of what can be achieved by varying the reward function coefficients of the surrogate</p>
<p class="t" style="left:2956.2px;top:2686.9px;font-family:'Liberation Serif',serif;font-size:32.5px;color:#000;transform-origin:0 30.0px;transform:scale(0.9796,1.0000);">CMDP problem when solved using PPO.</p>
</div>
</body>
</html>
